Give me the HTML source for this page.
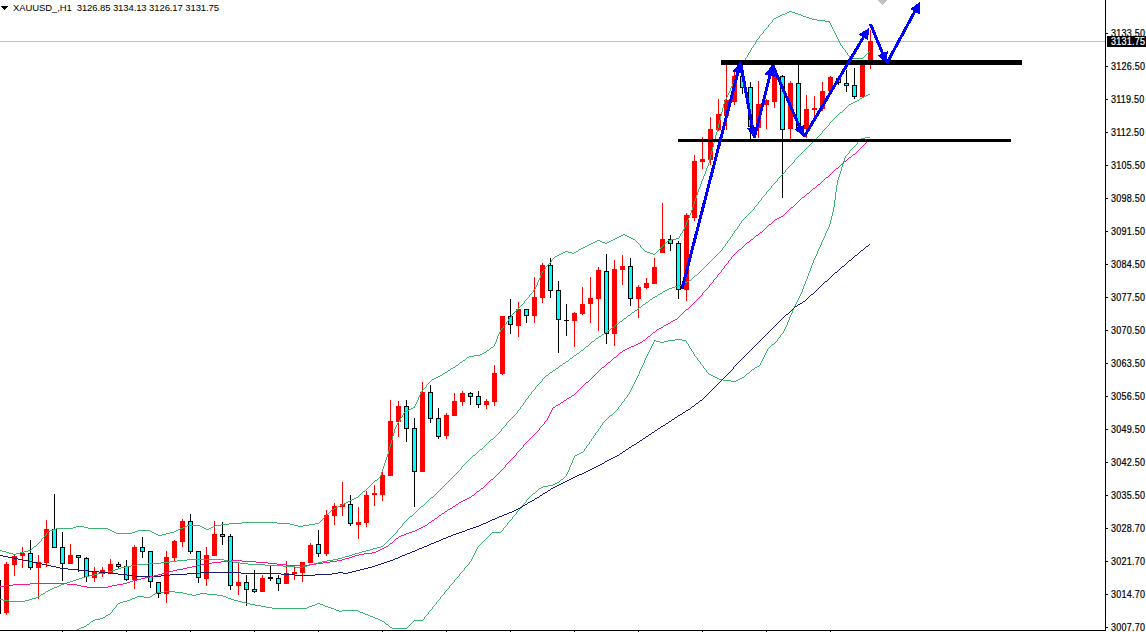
<!DOCTYPE html>
<html><head><meta charset="utf-8"><style>
html,body{margin:0;padding:0;background:#fff;}
#c{position:relative;width:1146px;height:632px;overflow:hidden;background:#fff;font-family:"Liberation Sans",sans-serif;}
svg{position:absolute;left:0;top:0;}
.pl{position:absolute;left:1111px;font-size:10px;line-height:12px;color:#000;letter-spacing:0.25px;transform:scaleX(0.9);transform-origin:0 0;white-space:nowrap;-webkit-text-stroke:0.2px #000;}
#hdr{position:absolute;left:13px;top:1.5px;font-size:9.5px;line-height:12px;color:#000;white-space:nowrap;letter-spacing:-0.1px;}
#cur{position:absolute;left:1107px;top:36px;width:39px;height:11px;background:#000;}
#curt{position:absolute;left:1111px;top:36px;font-size:10px;line-height:12px;color:#fff;letter-spacing:0.25px;transform:scaleX(0.9);transform-origin:0 0;white-space:nowrap;-webkit-text-stroke:0.2px #fff;}
</style></head><body><div id="c">
<svg width="1146" height="632" viewBox="0 0 1146 632" shape-rendering="crispEdges">
<rect x="0" y="41" width="1105" height="1" fill="#c0c0c0"/>
<rect x="6" y="562" width="1" height="53" fill="#ff0000"/>
<rect x="4" y="564" width="5" height="49" fill="#ff0000"/>
<rect x="14" y="555" width="1" height="21" fill="#ff0000"/>
<rect x="12" y="556" width="5" height="9" fill="#ff0000"/>
<rect x="22" y="547" width="1" height="21" fill="#ff0000"/>
<rect x="20" y="553" width="5" height="3" fill="#ff0000"/>
<rect x="30" y="540" width="1" height="30" fill="#000000"/>
<rect x="28" y="553" width="5" height="15" fill="#000000"/>
<rect x="29" y="554" width="3" height="13" fill="#00ffff"/>
<rect x="38" y="555" width="1" height="44" fill="#ff0000"/>
<rect x="36" y="562" width="5" height="6" fill="#ff0000"/>
<rect x="46" y="520" width="1" height="47" fill="#ff0000"/>
<rect x="44" y="529" width="5" height="34" fill="#ff0000"/>
<rect x="54" y="494" width="1" height="54" fill="#000000"/>
<rect x="52" y="529" width="5" height="19" fill="#000000"/>
<rect x="53" y="530" width="3" height="17" fill="#00ffff"/>
<rect x="62" y="532" width="1" height="49" fill="#000000"/>
<rect x="60" y="547" width="5" height="17" fill="#000000"/>
<rect x="61" y="548" width="3" height="15" fill="#00ffff"/>
<rect x="70" y="544" width="1" height="20" fill="#ff0000"/>
<rect x="68" y="555" width="5" height="9" fill="#ff0000"/>
<rect x="78" y="555" width="1" height="17" fill="#000000"/>
<rect x="76" y="555" width="5" height="3" fill="#000000"/>
<rect x="77" y="556" width="3" height="1" fill="#00ffff"/>
<rect x="86" y="557" width="1" height="25" fill="#000000"/>
<rect x="84" y="558" width="5" height="19" fill="#000000"/>
<rect x="85" y="559" width="3" height="17" fill="#00ffff"/>
<rect x="94" y="567" width="1" height="15" fill="#ff0000"/>
<rect x="92" y="571" width="5" height="7" fill="#ff0000"/>
<rect x="102" y="567" width="1" height="10" fill="#ff0000"/>
<rect x="100" y="570" width="5" height="4" fill="#ff0000"/>
<rect x="110" y="559" width="1" height="14" fill="#ff0000"/>
<rect x="108" y="564" width="5" height="9" fill="#ff0000"/>
<rect x="118" y="562" width="1" height="6" fill="#000000"/>
<rect x="116" y="564" width="5" height="3" fill="#000000"/>
<rect x="117" y="565" width="3" height="1" fill="#00ffff"/>
<rect x="126" y="560" width="1" height="21" fill="#000000"/>
<rect x="124" y="566" width="5" height="14" fill="#000000"/>
<rect x="125" y="567" width="3" height="12" fill="#00ffff"/>
<rect x="134" y="545" width="1" height="44" fill="#ff0000"/>
<rect x="132" y="547" width="5" height="33" fill="#ff0000"/>
<rect x="142" y="537" width="1" height="21" fill="#000000"/>
<rect x="140" y="547" width="5" height="5" fill="#000000"/>
<rect x="141" y="548" width="3" height="3" fill="#00ffff"/>
<rect x="150" y="551" width="1" height="37" fill="#000000"/>
<rect x="148" y="551" width="5" height="31" fill="#000000"/>
<rect x="149" y="552" width="3" height="29" fill="#00ffff"/>
<rect x="158" y="582" width="1" height="16" fill="#000000"/>
<rect x="156" y="582" width="5" height="12" fill="#000000"/>
<rect x="157" y="583" width="3" height="10" fill="#00ffff"/>
<rect x="166" y="551" width="1" height="52" fill="#ff0000"/>
<rect x="164" y="557" width="5" height="37" fill="#ff0000"/>
<rect x="174" y="540" width="1" height="21" fill="#ff0000"/>
<rect x="172" y="541" width="5" height="17" fill="#ff0000"/>
<rect x="182" y="519" width="1" height="28" fill="#ff0000"/>
<rect x="180" y="521" width="5" height="21" fill="#ff0000"/>
<rect x="190" y="514" width="1" height="40" fill="#000000"/>
<rect x="188" y="521" width="5" height="31" fill="#000000"/>
<rect x="189" y="522" width="3" height="29" fill="#00ffff"/>
<rect x="198" y="551" width="1" height="32" fill="#000000"/>
<rect x="196" y="551" width="5" height="27" fill="#000000"/>
<rect x="197" y="552" width="3" height="25" fill="#00ffff"/>
<rect x="206" y="547" width="1" height="39" fill="#ff0000"/>
<rect x="204" y="555" width="5" height="24" fill="#ff0000"/>
<rect x="214" y="521" width="1" height="35" fill="#ff0000"/>
<rect x="212" y="534" width="5" height="22" fill="#ff0000"/>
<rect x="222" y="522" width="1" height="23" fill="#000000"/>
<rect x="220" y="534" width="5" height="3" fill="#000000"/>
<rect x="221" y="535" width="3" height="1" fill="#00ffff"/>
<rect x="230" y="534" width="1" height="56" fill="#000000"/>
<rect x="228" y="536" width="5" height="50" fill="#000000"/>
<rect x="229" y="537" width="3" height="48" fill="#00ffff"/>
<rect x="238" y="562" width="1" height="33" fill="#ff0000"/>
<rect x="236" y="582" width="5" height="4" fill="#ff0000"/>
<rect x="246" y="575" width="1" height="31" fill="#000000"/>
<rect x="244" y="582" width="5" height="8" fill="#000000"/>
<rect x="245" y="583" width="3" height="6" fill="#00ffff"/>
<rect x="254" y="570" width="1" height="23" fill="#000000"/>
<rect x="252" y="589" width="5" height="3" fill="#000000"/>
<rect x="253" y="590" width="3" height="1" fill="#00ffff"/>
<rect x="262" y="575" width="1" height="17" fill="#ff0000"/>
<rect x="260" y="578" width="5" height="14" fill="#ff0000"/>
<rect x="270" y="566" width="1" height="15" fill="#000000"/>
<rect x="268" y="577" width="5" height="2" fill="#000000"/>
<rect x="278" y="575" width="1" height="16" fill="#000000"/>
<rect x="276" y="578" width="5" height="6" fill="#000000"/>
<rect x="277" y="579" width="3" height="4" fill="#00ffff"/>
<rect x="286" y="561" width="1" height="23" fill="#ff0000"/>
<rect x="284" y="573" width="5" height="11" fill="#ff0000"/>
<rect x="294" y="565" width="1" height="15" fill="#ff0000"/>
<rect x="292" y="572" width="5" height="2" fill="#ff0000"/>
<rect x="302" y="562" width="1" height="20" fill="#ff0000"/>
<rect x="300" y="562" width="5" height="11" fill="#ff0000"/>
<rect x="310" y="543" width="1" height="20" fill="#ff0000"/>
<rect x="308" y="545" width="5" height="18" fill="#ff0000"/>
<rect x="318" y="530" width="1" height="27" fill="#000000"/>
<rect x="316" y="544" width="5" height="10" fill="#000000"/>
<rect x="317" y="545" width="3" height="8" fill="#00ffff"/>
<rect x="326" y="510" width="1" height="46" fill="#ff0000"/>
<rect x="324" y="515" width="5" height="39" fill="#ff0000"/>
<rect x="334" y="503" width="1" height="22" fill="#ff0000"/>
<rect x="332" y="506" width="5" height="10" fill="#ff0000"/>
<rect x="342" y="482" width="1" height="34" fill="#ff0000"/>
<rect x="340" y="504" width="5" height="3" fill="#ff0000"/>
<rect x="350" y="495" width="1" height="31" fill="#000000"/>
<rect x="348" y="504" width="5" height="20" fill="#000000"/>
<rect x="349" y="505" width="3" height="18" fill="#00ffff"/>
<rect x="358" y="507" width="1" height="32" fill="#ff0000"/>
<rect x="356" y="522" width="5" height="3" fill="#ff0000"/>
<rect x="366" y="491" width="1" height="36" fill="#ff0000"/>
<rect x="364" y="495" width="5" height="28" fill="#ff0000"/>
<rect x="374" y="485" width="1" height="21" fill="#ff0000"/>
<rect x="372" y="493" width="5" height="2" fill="#ff0000"/>
<rect x="382" y="470" width="1" height="31" fill="#ff0000"/>
<rect x="380" y="475" width="5" height="20" fill="#ff0000"/>
<rect x="390" y="400" width="1" height="76" fill="#ff0000"/>
<rect x="388" y="421" width="5" height="55" fill="#ff0000"/>
<rect x="398" y="401" width="1" height="36" fill="#ff0000"/>
<rect x="396" y="406" width="5" height="16" fill="#ff0000"/>
<rect x="406" y="400" width="1" height="42" fill="#000000"/>
<rect x="404" y="406" width="5" height="23" fill="#000000"/>
<rect x="405" y="407" width="3" height="21" fill="#00ffff"/>
<rect x="414" y="418" width="1" height="89" fill="#000000"/>
<rect x="412" y="428" width="5" height="44" fill="#000000"/>
<rect x="413" y="429" width="3" height="42" fill="#00ffff"/>
<rect x="422" y="382" width="1" height="90" fill="#ff0000"/>
<rect x="420" y="392" width="5" height="80" fill="#ff0000"/>
<rect x="430" y="385" width="1" height="38" fill="#000000"/>
<rect x="428" y="392" width="5" height="27" fill="#000000"/>
<rect x="429" y="393" width="3" height="25" fill="#00ffff"/>
<rect x="438" y="408" width="1" height="31" fill="#000000"/>
<rect x="436" y="418" width="5" height="19" fill="#000000"/>
<rect x="437" y="419" width="3" height="17" fill="#00ffff"/>
<rect x="446" y="413" width="1" height="26" fill="#ff0000"/>
<rect x="444" y="415" width="5" height="21" fill="#ff0000"/>
<rect x="454" y="393" width="1" height="23" fill="#ff0000"/>
<rect x="452" y="401" width="5" height="15" fill="#ff0000"/>
<rect x="462" y="391" width="1" height="15" fill="#ff0000"/>
<rect x="460" y="393" width="5" height="9" fill="#ff0000"/>
<rect x="470" y="392" width="1" height="13" fill="#000000"/>
<rect x="468" y="393" width="5" height="4" fill="#000000"/>
<rect x="469" y="394" width="3" height="2" fill="#00ffff"/>
<rect x="478" y="391" width="1" height="17" fill="#000000"/>
<rect x="476" y="396" width="5" height="9" fill="#000000"/>
<rect x="477" y="397" width="3" height="7" fill="#00ffff"/>
<rect x="486" y="399" width="1" height="10" fill="#ff0000"/>
<rect x="484" y="401" width="5" height="4" fill="#ff0000"/>
<rect x="494" y="365" width="1" height="41" fill="#ff0000"/>
<rect x="492" y="373" width="5" height="29" fill="#ff0000"/>
<rect x="502" y="316" width="1" height="59" fill="#ff0000"/>
<rect x="500" y="316" width="5" height="58" fill="#ff0000"/>
<rect x="510" y="299" width="1" height="35" fill="#000000"/>
<rect x="508" y="316" width="5" height="9" fill="#000000"/>
<rect x="509" y="317" width="3" height="7" fill="#00ffff"/>
<rect x="518" y="302" width="1" height="35" fill="#ff0000"/>
<rect x="516" y="309" width="5" height="17" fill="#ff0000"/>
<rect x="526" y="309" width="1" height="14" fill="#000000"/>
<rect x="524" y="309" width="5" height="7" fill="#000000"/>
<rect x="525" y="310" width="3" height="5" fill="#00ffff"/>
<rect x="534" y="277" width="1" height="46" fill="#ff0000"/>
<rect x="532" y="297" width="5" height="19" fill="#ff0000"/>
<rect x="542" y="263" width="1" height="40" fill="#ff0000"/>
<rect x="540" y="265" width="5" height="33" fill="#ff0000"/>
<rect x="550" y="258" width="1" height="40" fill="#000000"/>
<rect x="548" y="265" width="5" height="26" fill="#000000"/>
<rect x="549" y="266" width="3" height="24" fill="#00ffff"/>
<rect x="558" y="281" width="1" height="72" fill="#000000"/>
<rect x="556" y="290" width="5" height="30" fill="#000000"/>
<rect x="557" y="291" width="3" height="28" fill="#00ffff"/>
<rect x="566" y="304" width="1" height="32" fill="#000000"/>
<rect x="564" y="320" width="5" height="1" fill="#000000"/>
<rect x="574" y="312" width="1" height="35" fill="#ff0000"/>
<rect x="572" y="313" width="5" height="8" fill="#ff0000"/>
<rect x="582" y="287" width="1" height="28" fill="#ff0000"/>
<rect x="580" y="304" width="5" height="10" fill="#ff0000"/>
<rect x="590" y="277" width="1" height="46" fill="#ff0000"/>
<rect x="588" y="298" width="5" height="6" fill="#ff0000"/>
<rect x="598" y="267" width="1" height="64" fill="#ff0000"/>
<rect x="596" y="270" width="5" height="29" fill="#ff0000"/>
<rect x="606" y="254" width="1" height="90" fill="#000000"/>
<rect x="604" y="271" width="5" height="63" fill="#000000"/>
<rect x="605" y="272" width="3" height="61" fill="#00ffff"/>
<rect x="614" y="260" width="1" height="86" fill="#ff0000"/>
<rect x="612" y="269" width="5" height="65" fill="#ff0000"/>
<rect x="622" y="255" width="1" height="30" fill="#ff0000"/>
<rect x="620" y="266" width="5" height="4" fill="#ff0000"/>
<rect x="630" y="258" width="1" height="48" fill="#000000"/>
<rect x="628" y="266" width="5" height="33" fill="#000000"/>
<rect x="629" y="267" width="3" height="31" fill="#00ffff"/>
<rect x="638" y="285" width="1" height="33" fill="#ff0000"/>
<rect x="636" y="287" width="5" height="12" fill="#ff0000"/>
<rect x="646" y="278" width="1" height="11" fill="#ff0000"/>
<rect x="644" y="283" width="5" height="5" fill="#ff0000"/>
<rect x="654" y="258" width="1" height="26" fill="#ff0000"/>
<rect x="652" y="267" width="5" height="17" fill="#ff0000"/>
<rect x="662" y="203" width="1" height="50" fill="#ff0000"/>
<rect x="660" y="239" width="5" height="14" fill="#ff0000"/>
<rect x="670" y="235" width="1" height="16" fill="#000000"/>
<rect x="668" y="239" width="5" height="5" fill="#000000"/>
<rect x="669" y="240" width="3" height="3" fill="#00ffff"/>
<rect x="678" y="241" width="1" height="58" fill="#000000"/>
<rect x="676" y="243" width="5" height="47" fill="#000000"/>
<rect x="677" y="244" width="3" height="45" fill="#00ffff"/>
<rect x="686" y="213" width="1" height="88" fill="#ff0000"/>
<rect x="684" y="215" width="5" height="75" fill="#ff0000"/>
<rect x="694" y="155" width="1" height="66" fill="#ff0000"/>
<rect x="692" y="161" width="5" height="57" fill="#ff0000"/>
<rect x="702" y="137" width="1" height="32" fill="#ff0000"/>
<rect x="700" y="159" width="5" height="3" fill="#ff0000"/>
<rect x="710" y="117" width="1" height="48" fill="#ff0000"/>
<rect x="708" y="129" width="5" height="31" fill="#ff0000"/>
<rect x="718" y="99" width="1" height="32" fill="#ff0000"/>
<rect x="716" y="114" width="5" height="16" fill="#ff0000"/>
<rect x="726" y="65" width="1" height="65" fill="#ff0000"/>
<rect x="724" y="100" width="5" height="16" fill="#ff0000"/>
<rect x="734" y="72" width="1" height="33" fill="#ff0000"/>
<rect x="732" y="76" width="5" height="26" fill="#ff0000"/>
<rect x="742" y="62" width="1" height="32" fill="#000000"/>
<rect x="740" y="76" width="5" height="12" fill="#000000"/>
<rect x="741" y="77" width="3" height="10" fill="#00ffff"/>
<rect x="750" y="82" width="1" height="57" fill="#000000"/>
<rect x="748" y="87" width="5" height="40" fill="#000000"/>
<rect x="749" y="88" width="3" height="38" fill="#00ffff"/>
<rect x="758" y="81" width="1" height="57" fill="#ff0000"/>
<rect x="756" y="104" width="5" height="24" fill="#ff0000"/>
<rect x="766" y="99" width="1" height="30" fill="#ff0000"/>
<rect x="764" y="100" width="5" height="5" fill="#ff0000"/>
<rect x="774" y="65" width="1" height="43" fill="#ff0000"/>
<rect x="772" y="76" width="5" height="26" fill="#ff0000"/>
<rect x="782" y="75" width="1" height="123" fill="#000000"/>
<rect x="780" y="76" width="5" height="54" fill="#000000"/>
<rect x="781" y="77" width="3" height="52" fill="#00ffff"/>
<rect x="790" y="81" width="1" height="59" fill="#ff0000"/>
<rect x="788" y="83" width="5" height="46" fill="#ff0000"/>
<rect x="798" y="64" width="1" height="65" fill="#000000"/>
<rect x="796" y="83" width="5" height="45" fill="#000000"/>
<rect x="797" y="84" width="3" height="43" fill="#00ffff"/>
<rect x="806" y="95" width="1" height="43" fill="#ff0000"/>
<rect x="804" y="109" width="5" height="20" fill="#ff0000"/>
<rect x="814" y="96" width="1" height="21" fill="#ff0000"/>
<rect x="812" y="108" width="5" height="2" fill="#ff0000"/>
<rect x="822" y="82" width="1" height="29" fill="#ff0000"/>
<rect x="820" y="91" width="5" height="18" fill="#ff0000"/>
<rect x="830" y="76" width="1" height="15" fill="#ff0000"/>
<rect x="828" y="77" width="5" height="14" fill="#ff0000"/>
<rect x="838" y="77" width="1" height="8" fill="#000000"/>
<rect x="836" y="78" width="5" height="5" fill="#000000"/>
<rect x="837" y="79" width="3" height="3" fill="#00ffff"/>
<rect x="846" y="70" width="1" height="22" fill="#000000"/>
<rect x="844" y="83" width="5" height="3" fill="#000000"/>
<rect x="845" y="84" width="3" height="1" fill="#00ffff"/>
<rect x="854" y="68" width="1" height="31" fill="#000000"/>
<rect x="852" y="85" width="5" height="12" fill="#000000"/>
<rect x="853" y="86" width="3" height="10" fill="#00ffff"/>
<rect x="862" y="62" width="1" height="35" fill="#ff0000"/>
<rect x="860" y="64" width="5" height="33" fill="#ff0000"/>
<rect x="870" y="30" width="1" height="39" fill="#ff0000"/>
<rect x="868" y="41" width="5" height="23" fill="#ff0000"/>
<rect x="0" y="580" width="1" height="34" fill="#000000"/>
<path d="M865 137h5v1h-5zM861 138h4v1h-4zM860 139h1v1h-1zM859 140h1v1h-1zM858 141h1v1h-1zM857 142h1v1h-1zM857 143h1v1h-1zM856 144h1v1h-1zM855 145h1v1h-1zM854 146h1v1h-1zM853 147h1v1h-1zM852 148h1v1h-1zM851 149h1v1h-1zM850 150h1v1h-1zM849 151h1v1h-1zM849 152h1v1h-1zM848 153h1v1h-1zM847 154h1v1h-1zM846 155h1v1h-1zM845 156h1v1h-1zM845 157h1v1h-1zM844 158h1v1h-1zM844 159h1v1h-1zM844 160h1v1h-1zM843 161h1v1h-1zM843 162h1v1h-1zM843 163h1v1h-1zM842 164h1v1h-1zM842 165h1v1h-1zM842 166h1v1h-1zM841 167h1v1h-1zM841 168h1v1h-1zM841 169h1v1h-1zM841 170h1v1h-1zM840 171h1v1h-1zM840 172h1v1h-1zM840 173h1v1h-1zM839 174h1v1h-1zM839 175h1v1h-1zM839 176h1v1h-1zM838 177h1v1h-1zM838 178h1v1h-1zM838 179h1v1h-1zM837 180h1v1h-1zM837 181h1v1h-1zM837 182h1v1h-1zM837 183h1v1h-1zM837 184h1v1h-1zM836 185h1v1h-1zM836 186h1v1h-1zM836 187h1v1h-1zM836 188h1v1h-1zM836 189h1v1h-1zM836 190h1v1h-1zM836 191h1v1h-1zM835 192h1v1h-1zM835 193h1v1h-1zM835 194h1v1h-1zM835 195h1v1h-1zM835 196h1v1h-1zM835 197h1v1h-1zM835 198h1v1h-1zM835 199h1v1h-1zM834 200h1v1h-1zM834 201h1v1h-1zM834 202h1v1h-1zM834 203h1v1h-1zM834 204h1v1h-1zM834 205h1v1h-1zM834 206h1v1h-1zM833 207h1v1h-1zM833 208h1v1h-1zM833 209h1v1h-1zM833 210h1v1h-1zM833 211h1v1h-1zM832 212h1v1h-1zM832 213h1v1h-1zM832 214h1v1h-1zM832 215h1v1h-1zM831 216h1v1h-1zM831 217h1v1h-1zM831 218h1v1h-1zM831 219h1v1h-1zM830 220h1v1h-1zM830 221h1v1h-1zM830 222h1v1h-1zM830 223h1v1h-1zM829 224h1v1h-1zM829 225h1v1h-1zM829 226h1v1h-1zM828 227h1v1h-1zM828 228h1v1h-1zM827 229h1v1h-1zM827 230h1v1h-1zM826 231h1v1h-1zM826 232h1v1h-1zM825 233h1v1h-1zM825 234h1v1h-1zM825 235h1v1h-1zM824 236h1v1h-1zM824 237h1v1h-1zM823 238h1v1h-1zM823 239h1v1h-1zM822 240h1v1h-1zM822 241h1v1h-1zM821 242h1v1h-1zM821 243h1v1h-1zM821 244h1v1h-1zM820 245h1v1h-1zM820 246h1v1h-1zM819 247h1v1h-1zM819 248h1v1h-1zM818 249h1v1h-1zM818 250h1v1h-1zM817 251h1v1h-1zM817 252h1v1h-1zM817 253h1v1h-1zM816 254h1v1h-1zM816 255h1v1h-1zM815 256h1v1h-1zM815 257h1v1h-1zM814 258h1v1h-1zM814 259h1v1h-1zM813 260h1v1h-1zM813 261h1v1h-1zM813 262h1v1h-1zM812 263h1v1h-1zM812 264h1v1h-1zM811 265h1v1h-1zM811 266h1v1h-1zM811 267h1v1h-1zM810 268h1v1h-1zM810 269h1v1h-1zM810 270h1v1h-1zM809 271h1v1h-1zM809 272h1v1h-1zM808 273h1v1h-1zM808 274h1v1h-1zM808 275h1v1h-1zM807 276h1v1h-1zM807 277h1v1h-1zM807 278h1v1h-1zM806 279h1v1h-1zM806 280h1v1h-1zM805 281h1v1h-1zM805 282h1v1h-1zM805 283h1v1h-1zM804 284h1v1h-1zM804 285h1v1h-1zM803 286h1v1h-1zM803 287h1v1h-1zM803 288h1v1h-1zM802 289h1v1h-1zM802 290h1v1h-1zM802 291h1v1h-1zM801 292h1v1h-1zM801 293h1v1h-1zM800 294h1v1h-1zM800 295h1v1h-1zM799 296h1v1h-1zM799 297h1v1h-1zM798 298h1v1h-1zM798 299h1v1h-1zM797 300h1v1h-1zM797 301h1v1h-1zM796 302h1v1h-1zM796 303h1v1h-1zM795 304h1v1h-1zM795 305h1v1h-1zM794 306h1v1h-1zM794 307h1v1h-1zM793 308h1v1h-1zM793 309h1v1h-1zM792 310h1v1h-1zM792 311h1v1h-1zM792 312h1v1h-1zM791 313h1v1h-1zM791 314h1v1h-1zM790 315h1v1h-1zM790 316h1v1h-1zM789 317h1v1h-1zM789 318h1v1h-1zM789 319h1v1h-1zM788 320h1v1h-1zM788 321h1v1h-1zM787 322h1v1h-1zM787 323h1v1h-1zM787 324h1v1h-1zM786 325h1v1h-1zM786 326h1v1h-1zM785 327h1v1h-1zM785 328h1v1h-1zM784 329h1v1h-1zM784 330h1v1h-1zM783 331h1v1h-1zM783 332h1v1h-1zM782 333h1v1h-1zM781 334h1v1h-1zM780 335h1v1h-1zM780 336h1v1h-1zM779 337h1v1h-1zM778 338h1v1h-1zM675 339h7v1h-7zM777 339h1v1h-1zM654 340h2v1h-2zM668 340h7v1h-7zM682 340h4v1h-4zM777 340h1v1h-1zM654 341h1v1h-1zM656 341h4v1h-4zM664 341h4v1h-4zM686 341h1v1h-1zM776 341h1v1h-1zM653 342h1v1h-1zM660 342h4v1h-4zM686 342h1v1h-1zM775 342h1v1h-1zM653 343h1v1h-1zM687 343h1v1h-1zM774 343h1v1h-1zM652 344h1v1h-1zM688 344h1v1h-1zM772 344h2v1h-2zM652 345h1v1h-1zM688 345h1v1h-1zM771 345h1v1h-1zM651 346h1v1h-1zM689 346h1v1h-1zM770 346h1v1h-1zM651 347h1v1h-1zM689 347h1v1h-1zM769 347h1v1h-1zM650 348h1v1h-1zM690 348h1v1h-1zM768 348h1v1h-1zM650 349h1v1h-1zM691 349h1v1h-1zM767 349h1v1h-1zM649 350h1v1h-1zM691 350h1v1h-1zM767 350h1v1h-1zM649 351h1v1h-1zM692 351h1v1h-1zM766 351h1v1h-1zM648 352h1v1h-1zM693 352h1v1h-1zM766 352h1v1h-1zM648 353h1v1h-1zM693 353h1v1h-1zM765 353h1v1h-1zM647 354h1v1h-1zM694 354h1v1h-1zM765 354h1v1h-1zM647 355h1v1h-1zM694 355h1v1h-1zM764 355h1v1h-1zM646 356h1v1h-1zM695 356h1v1h-1zM764 356h1v1h-1zM646 357h1v1h-1zM696 357h1v1h-1zM763 357h1v1h-1zM645 358h1v1h-1zM697 358h1v1h-1zM763 358h1v1h-1zM645 359h1v1h-1zM697 359h1v1h-1zM762 359h1v1h-1zM644 360h1v1h-1zM698 360h1v1h-1zM762 360h1v1h-1zM644 361h1v1h-1zM699 361h1v1h-1zM761 361h1v1h-1zM644 362h1v1h-1zM700 362h1v1h-1zM761 362h1v1h-1zM643 363h1v1h-1zM700 363h1v1h-1zM760 363h1v1h-1zM643 364h1v1h-1zM701 364h1v1h-1zM760 364h1v1h-1zM642 365h1v1h-1zM702 365h1v1h-1zM759 365h1v1h-1zM642 366h1v1h-1zM703 366h1v1h-1zM757 366h2v1h-2zM641 367h1v1h-1zM703 367h1v1h-1zM755 367h2v1h-2zM641 368h1v1h-1zM704 368h1v1h-1zM754 368h1v1h-1zM640 369h1v1h-1zM705 369h1v1h-1zM752 369h2v1h-2zM640 370h1v1h-1zM706 370h1v1h-1zM751 370h1v1h-1zM639 371h1v1h-1zM706 371h1v1h-1zM750 371h1v1h-1zM639 372h1v1h-1zM707 372h1v1h-1zM749 372h1v1h-1zM639 373h1v1h-1zM708 373h1v1h-1zM747 373h2v1h-2zM638 374h1v1h-1zM709 374h2v1h-2zM746 374h1v1h-1zM638 375h1v1h-1zM711 375h2v1h-2zM745 375h1v1h-1zM637 376h1v1h-1zM713 376h2v1h-2zM744 376h1v1h-1zM637 377h1v1h-1zM715 377h2v1h-2zM742 377h2v1h-2zM636 378h1v1h-1zM717 378h2v1h-2zM740 378h2v1h-2zM636 379h1v1h-1zM719 379h4v1h-4zM738 379h2v1h-2zM635 380h1v1h-1zM723 380h8v1h-8zM736 380h2v1h-2zM635 381h1v1h-1zM731 381h5v1h-5zM634 382h1v1h-1zM634 383h1v1h-1zM633 384h1v1h-1zM633 385h1v1h-1zM632 386h1v1h-1zM632 387h1v1h-1zM631 388h1v1h-1zM631 389h1v1h-1zM630 390h1v1h-1zM630 391h1v1h-1zM629 392h1v1h-1zM629 393h1v1h-1zM628 394h1v1h-1zM627 395h1v1h-1zM627 396h1v1h-1zM626 397h1v1h-1zM625 398h1v1h-1zM624 399h1v1h-1zM624 400h1v1h-1zM623 401h1v1h-1zM622 402h1v1h-1zM621 403h1v1h-1zM621 404h1v1h-1zM620 405h1v1h-1zM619 406h1v1h-1zM618 407h1v1h-1zM618 408h1v1h-1zM617 409h1v1h-1zM616 410h1v1h-1zM615 411h1v1h-1zM614 412h1v1h-1zM613 413h1v1h-1zM612 414h1v1h-1zM610 415h2v1h-2zM609 416h1v1h-1zM608 417h1v1h-1zM607 418h1v1h-1zM606 419h1v1h-1zM605 420h1v1h-1zM604 421h1v1h-1zM603 422h1v1h-1zM602 423h1v1h-1zM602 424h1v1h-1zM601 425h1v1h-1zM600 426h1v1h-1zM600 427h1v1h-1zM599 428h1v1h-1zM598 429h1v1h-1zM598 430h1v1h-1zM597 431h1v1h-1zM596 432h1v1h-1zM595 433h1v1h-1zM595 434h1v1h-1zM594 435h1v1h-1zM593 436h1v1h-1zM593 437h1v1h-1zM592 438h1v1h-1zM591 439h1v1h-1zM591 440h1v1h-1zM590 441h1v1h-1zM589 442h1v1h-1zM589 443h1v1h-1zM588 444h1v1h-1zM587 445h1v1h-1zM586 446h1v1h-1zM586 447h1v1h-1zM585 448h1v1h-1zM584 449h1v1h-1zM584 450h1v1h-1zM583 451h1v1h-1zM581 452h2v1h-2zM579 453h2v1h-2zM577 454h2v1h-2zM575 455h2v1h-2zM574 456h1v1h-1zM574 457h1v1h-1zM573 458h1v1h-1zM573 459h1v1h-1zM572 460h1v1h-1zM572 461h1v1h-1zM572 462h1v1h-1zM571 463h1v1h-1zM571 464h1v1h-1zM570 465h1v1h-1zM570 466h1v1h-1zM569 467h1v1h-1zM569 468h1v1h-1zM569 469h1v1h-1zM568 470h1v1h-1zM568 471h1v1h-1zM567 472h1v1h-1zM567 473h1v1h-1zM566 474h1v1h-1zM566 475h1v1h-1zM565 476h1v1h-1zM564 477h1v1h-1zM563 478h1v1h-1zM561 479h2v1h-2zM560 480h1v1h-1zM559 481h1v1h-1zM557 482h2v1h-2zM555 483h2v1h-2zM553 484h2v1h-2zM548 485h5v1h-5zM543 486h5v1h-5zM541 487h2v1h-2zM539 488h2v1h-2zM538 489h1v1h-1zM537 490h1v1h-1zM536 491h1v1h-1zM535 492h1v1h-1zM533 493h2v1h-2zM532 494h1v1h-1zM531 495h1v1h-1zM530 496h1v1h-1zM529 497h1v1h-1zM528 498h1v1h-1zM527 499h1v1h-1zM526 500h1v1h-1zM526 501h1v1h-1zM525 502h1v1h-1zM524 503h1v1h-1zM523 504h1v1h-1zM522 505h1v1h-1zM521 506h1v1h-1zM521 507h1v1h-1zM520 508h1v1h-1zM519 509h1v1h-1zM518 510h1v1h-1zM517 511h1v1h-1zM516 512h1v1h-1zM516 513h1v1h-1zM515 514h1v1h-1zM514 515h1v1h-1zM513 516h1v1h-1zM512 517h1v1h-1zM512 518h1v1h-1zM511 519h1v1h-1zM510 520h1v1h-1zM509 521h1v1h-1zM508 522h1v1h-1zM507 523h1v1h-1zM507 524h1v1h-1zM506 525h1v1h-1zM505 526h1v1h-1zM504 527h1v1h-1zM503 528h1v1h-1zM503 529h1v1h-1zM502 530h1v1h-1zM501 531h1v1h-1zM492 532h9v1h-9zM491 533h1v1h-1zM490 534h1v1h-1zM489 535h1v1h-1zM488 536h1v1h-1zM487 537h1v1h-1zM486 538h1v1h-1zM485 539h1v1h-1zM484 540h1v1h-1zM483 541h1v1h-1zM482 542h1v1h-1zM481 543h1v1h-1zM480 544h1v1h-1zM479 545h1v1h-1zM478 546h1v1h-1zM477 547h1v1h-1zM477 548h1v1h-1zM476 549h1v1h-1zM476 550h1v1h-1zM475 551h1v1h-1zM475 552h1v1h-1zM474 553h1v1h-1zM474 554h1v1h-1zM473 555h1v1h-1zM473 556h1v1h-1zM472 557h1v1h-1zM472 558h1v1h-1zM471 559h1v1h-1zM471 560h1v1h-1zM470 561h1v1h-1zM469 562h1v1h-1zM469 563h1v1h-1zM468 564h1v1h-1zM467 565h1v1h-1zM466 566h1v1h-1zM465 567h1v1h-1zM464 568h1v1h-1zM464 569h1v1h-1zM463 570h1v1h-1zM462 571h1v1h-1zM461 572h1v1h-1zM460 573h1v1h-1zM459 574h1v1h-1zM459 575h1v1h-1zM458 576h1v1h-1zM457 577h1v1h-1zM456 578h1v1h-1zM455 579h1v1h-1zM454 580h1v1h-1zM454 581h1v1h-1zM453 582h1v1h-1zM452 583h1v1h-1zM451 584h1v1h-1zM450 585h1v1h-1zM449 586h1v1h-1zM449 587h1v1h-1zM448 588h1v1h-1zM447 589h1v1h-1zM446 590h1v1h-1zM164 591h11v1h-11zM445 591h1v1h-1zM157 592h7v1h-7zM175 592h8v1h-8zM444 592h1v1h-1zM155 593h2v1h-2zM183 593h4v1h-4zM200 593h7v1h-7zM444 593h1v1h-1zM153 594h2v1h-2zM187 594h5v1h-5zM196 594h4v1h-4zM207 594h10v1h-10zM443 594h1v1h-1zM152 595h1v1h-1zM192 595h4v1h-4zM217 595h6v1h-6zM442 595h1v1h-1zM137 596h7v1h-7zM150 596h2v1h-2zM223 596h3v1h-3zM441 596h1v1h-1zM135 597h2v1h-2zM144 597h6v1h-6zM226 597h2v1h-2zM440 597h1v1h-1zM132 598h3v1h-3zM228 598h3v1h-3zM440 598h1v1h-1zM130 599h2v1h-2zM231 599h3v1h-3zM439 599h1v1h-1zM127 600h3v1h-3zM234 600h4v1h-4zM438 600h1v1h-1zM123 601h4v1h-4zM238 601h4v1h-4zM437 601h1v1h-1zM120 602h3v1h-3zM242 602h4v1h-4zM436 602h1v1h-1zM118 603h2v1h-2zM246 603h4v1h-4zM317 603h3v1h-3zM436 603h1v1h-1zM117 604h1v1h-1zM250 604h5v1h-5zM315 604h2v1h-2zM320 604h3v1h-3zM435 604h1v1h-1zM116 605h1v1h-1zM255 605h6v1h-6zM312 605h3v1h-3zM323 605h2v1h-2zM434 605h1v1h-1zM116 606h1v1h-1zM261 606h5v1h-5zM309 606h3v1h-3zM325 606h3v1h-3zM433 606h1v1h-1zM115 607h1v1h-1zM266 607h6v1h-6zM307 607h2v1h-2zM328 607h3v1h-3zM432 607h1v1h-1zM114 608h1v1h-1zM272 608h35v1h-35zM331 608h3v1h-3zM432 608h1v1h-1zM113 609h1v1h-1zM334 609h2v1h-2zM431 609h1v1h-1zM112 610h1v1h-1zM336 610h3v1h-3zM342 610h16v1h-16zM430 610h1v1h-1zM112 611h1v1h-1zM339 611h3v1h-3zM358 611h2v1h-2zM429 611h1v1h-1zM111 612h1v1h-1zM360 612h3v1h-3zM428 612h1v1h-1zM110 613h1v1h-1zM363 613h2v1h-2zM428 613h1v1h-1zM108 614h2v1h-2zM365 614h3v1h-3zM427 614h1v1h-1zM106 615h2v1h-2zM368 615h2v1h-2zM426 615h1v1h-1zM105 616h1v1h-1zM370 616h3v1h-3zM425 616h1v1h-1zM103 617h2v1h-2zM373 617h2v1h-2zM424 617h1v1h-1zM100 618h3v1h-3zM375 618h3v1h-3zM424 618h1v1h-1zM95 619h5v1h-5zM378 619h2v1h-2zM423 619h1v1h-1zM93 620h2v1h-2zM380 620h2v1h-2zM414 620h9v1h-9zM91 621h2v1h-2zM382 621h2v1h-2zM413 621h1v1h-1zM90 622h1v1h-1zM384 622h1v1h-1zM412 622h1v1h-1zM89 623h1v1h-1zM385 623h1v1h-1zM411 623h1v1h-1zM87 624h2v1h-2zM386 624h2v1h-2zM410 624h1v1h-1zM86 625h1v1h-1zM388 625h1v1h-1zM409 625h1v1h-1zM84 626h2v1h-2zM389 626h1v1h-1zM408 626h1v1h-1zM81 627h3v1h-3zM390 627h2v1h-2zM407 627h1v1h-1zM79 628h2v1h-2zM392 628h15v1h-15zM77 629h2v1h-2z" fill="#3cb371"/>
<path d="M868 94h2v1h-2zM866 95h2v1h-2zM864 96h2v1h-2zM862 97h2v1h-2zM860 98h2v1h-2zM859 99h1v1h-1zM857 100h2v1h-2zM855 101h2v1h-2zM853 102h2v1h-2zM851 103h2v1h-2zM849 104h2v1h-2zM848 105h1v1h-1zM847 106h1v1h-1zM846 107h1v1h-1zM845 108h1v1h-1zM844 109h1v1h-1zM843 110h1v1h-1zM842 111h1v1h-1zM840 112h2v1h-2zM839 113h1v1h-1zM838 114h1v1h-1zM837 115h1v1h-1zM836 116h1v1h-1zM835 117h1v1h-1zM834 118h1v1h-1zM833 119h1v1h-1zM832 120h1v1h-1zM831 121h1v1h-1zM830 122h1v1h-1zM829 123h1v1h-1zM829 124h1v1h-1zM828 125h1v1h-1zM827 126h1v1h-1zM826 127h1v1h-1zM825 128h1v1h-1zM824 129h1v1h-1zM823 130h1v1h-1zM822 131h1v1h-1zM822 132h1v1h-1zM821 133h1v1h-1zM820 134h1v1h-1zM819 135h1v1h-1zM818 136h1v1h-1zM817 137h1v1h-1zM816 138h1v1h-1zM815 139h1v1h-1zM814 140h1v1h-1zM813 141h1v1h-1zM812 142h1v1h-1zM811 143h1v1h-1zM810 144h1v1h-1zM809 145h1v1h-1zM808 146h1v1h-1zM807 147h1v1h-1zM806 148h1v1h-1zM805 149h1v1h-1zM804 150h1v1h-1zM803 151h1v1h-1zM802 152h1v1h-1zM801 153h1v1h-1zM800 154h1v1h-1zM799 155h1v1h-1zM798 156h1v1h-1zM797 157h1v1h-1zM796 158h1v1h-1zM795 159h1v1h-1zM794 160h1v1h-1zM794 161h1v1h-1zM793 162h1v1h-1zM792 163h1v1h-1zM791 164h1v1h-1zM790 165h1v1h-1zM789 166h1v1h-1zM788 167h1v1h-1zM787 168h1v1h-1zM786 169h1v1h-1zM785 170h1v1h-1zM785 171h1v1h-1zM784 172h1v1h-1zM783 173h1v1h-1zM782 174h1v1h-1zM781 175h1v1h-1zM780 176h1v1h-1zM779 177h1v1h-1zM778 178h1v1h-1zM777 179h1v1h-1zM777 180h1v1h-1zM776 181h1v1h-1zM775 182h1v1h-1zM774 183h1v1h-1zM773 184h1v1h-1zM772 185h1v1h-1zM771 186h1v1h-1zM771 187h1v1h-1zM770 188h1v1h-1zM769 189h1v1h-1zM768 190h1v1h-1zM767 191h1v1h-1zM766 192h1v1h-1zM766 193h1v1h-1zM765 194h1v1h-1zM764 195h1v1h-1zM763 196h1v1h-1zM762 197h1v1h-1zM761 198h1v1h-1zM761 199h1v1h-1zM760 200h1v1h-1zM759 201h1v1h-1zM758 202h1v1h-1zM758 203h1v1h-1zM757 204h1v1h-1zM756 205h1v1h-1zM755 206h1v1h-1zM754 207h1v1h-1zM754 208h1v1h-1zM753 209h1v1h-1zM752 210h1v1h-1zM751 211h1v1h-1zM750 212h1v1h-1zM749 213h1v1h-1zM748 214h1v1h-1zM747 215h1v1h-1zM746 216h1v1h-1zM745 217h1v1h-1zM744 218h1v1h-1zM743 219h1v1h-1zM742 220h1v1h-1zM741 221h1v1h-1zM741 222h1v1h-1zM740 223h1v1h-1zM739 224h1v1h-1zM739 225h1v1h-1zM738 226h1v1h-1zM737 227h1v1h-1zM737 228h1v1h-1zM736 229h1v1h-1zM735 230h1v1h-1zM734 231h1v1h-1zM734 232h1v1h-1zM733 233h1v1h-1zM732 234h1v1h-1zM732 235h1v1h-1zM731 236h1v1h-1zM730 237h1v1h-1zM730 238h1v1h-1zM729 239h1v1h-1zM728 240h1v1h-1zM727 241h1v1h-1zM727 242h1v1h-1zM726 243h1v1h-1zM725 244h1v1h-1zM725 245h1v1h-1zM724 246h1v1h-1zM723 247h1v1h-1zM722 248h1v1h-1zM722 249h1v1h-1zM721 250h1v1h-1zM720 251h1v1h-1zM719 252h1v1h-1zM718 253h1v1h-1zM717 254h1v1h-1zM716 255h1v1h-1zM715 256h1v1h-1zM714 257h1v1h-1zM713 258h1v1h-1zM712 259h1v1h-1zM711 260h1v1h-1zM710 261h1v1h-1zM709 262h1v1h-1zM708 263h1v1h-1zM707 264h1v1h-1zM706 265h1v1h-1zM705 266h1v1h-1zM704 267h1v1h-1zM703 268h1v1h-1zM702 269h1v1h-1zM701 270h1v1h-1zM700 271h1v1h-1zM699 272h1v1h-1zM698 273h1v1h-1zM697 274h1v1h-1zM695 275h2v1h-2zM694 276h1v1h-1zM693 277h1v1h-1zM692 278h1v1h-1zM691 279h1v1h-1zM689 280h2v1h-2zM687 281h2v1h-2zM685 282h2v1h-2zM683 283h2v1h-2zM681 284h2v1h-2zM678 285h3v1h-3zM675 286h3v1h-3zM672 287h3v1h-3zM669 288h3v1h-3zM667 289h2v1h-2zM665 290h2v1h-2zM663 291h2v1h-2zM662 292h1v1h-1zM660 293h2v1h-2zM658 294h2v1h-2zM657 295h1v1h-1zM655 296h2v1h-2zM653 297h2v1h-2zM652 298h1v1h-1zM650 299h2v1h-2zM649 300h1v1h-1zM648 301h1v1h-1zM646 302h2v1h-2zM645 303h1v1h-1zM643 304h2v1h-2zM642 305h1v1h-1zM641 306h1v1h-1zM639 307h2v1h-2zM638 308h1v1h-1zM637 309h1v1h-1zM635 310h2v1h-2zM634 311h1v1h-1zM632 312h2v1h-2zM631 313h1v1h-1zM630 314h1v1h-1zM628 315h2v1h-2zM627 316h1v1h-1zM626 317h1v1h-1zM624 318h2v1h-2zM623 319h1v1h-1zM622 320h1v1h-1zM620 321h2v1h-2zM619 322h1v1h-1zM618 323h1v1h-1zM616 324h2v1h-2zM615 325h1v1h-1zM614 326h1v1h-1zM612 327h2v1h-2zM611 328h1v1h-1zM610 329h1v1h-1zM608 330h2v1h-2zM607 331h1v1h-1zM605 332h2v1h-2zM604 333h1v1h-1zM602 334h2v1h-2zM601 335h1v1h-1zM599 336h2v1h-2zM598 337h1v1h-1zM596 338h2v1h-2zM595 339h1v1h-1zM594 340h1v1h-1zM592 341h2v1h-2zM591 342h1v1h-1zM590 343h1v1h-1zM589 344h1v1h-1zM588 345h1v1h-1zM586 346h2v1h-2zM585 347h1v1h-1zM584 348h1v1h-1zM583 349h1v1h-1zM581 350h2v1h-2zM580 351h1v1h-1zM579 352h1v1h-1zM577 353h2v1h-2zM576 354h1v1h-1zM574 355h2v1h-2zM573 356h1v1h-1zM572 357h1v1h-1zM570 358h2v1h-2zM569 359h1v1h-1zM568 360h1v1h-1zM566 361h2v1h-2zM565 362h1v1h-1zM563 363h2v1h-2zM562 364h1v1h-1zM560 365h2v1h-2zM559 366h1v1h-1zM558 367h1v1h-1zM556 368h2v1h-2zM555 369h1v1h-1zM553 370h2v1h-2zM552 371h1v1h-1zM550 372h2v1h-2zM549 373h1v1h-1zM548 374h1v1h-1zM546 375h2v1h-2zM545 376h1v1h-1zM544 377h1v1h-1zM543 378h1v1h-1zM542 379h1v1h-1zM542 380h1v1h-1zM541 381h1v1h-1zM540 382h1v1h-1zM539 383h1v1h-1zM538 384h1v1h-1zM537 385h1v1h-1zM536 386h1v1h-1zM535 387h1v1h-1zM535 388h1v1h-1zM534 389h1v1h-1zM533 390h1v1h-1zM532 391h1v1h-1zM531 392h1v1h-1zM531 393h1v1h-1zM530 394h1v1h-1zM529 395h1v1h-1zM528 396h1v1h-1zM528 397h1v1h-1zM527 398h1v1h-1zM526 399h1v1h-1zM525 400h1v1h-1zM525 401h1v1h-1zM524 402h1v1h-1zM523 403h1v1h-1zM523 404h1v1h-1zM522 405h1v1h-1zM521 406h1v1h-1zM520 407h1v1h-1zM520 408h1v1h-1zM519 409h1v1h-1zM518 410h1v1h-1zM517 411h1v1h-1zM517 412h1v1h-1zM516 413h1v1h-1zM515 414h1v1h-1zM514 415h1v1h-1zM513 416h1v1h-1zM512 417h1v1h-1zM511 418h1v1h-1zM510 419h1v1h-1zM509 420h1v1h-1zM508 421h1v1h-1zM507 422h1v1h-1zM506 423h1v1h-1zM506 424h1v1h-1zM505 425h1v1h-1zM504 426h1v1h-1zM503 427h1v1h-1zM502 428h1v1h-1zM501 429h1v1h-1zM501 430h1v1h-1zM500 431h1v1h-1zM499 432h1v1h-1zM498 433h1v1h-1zM497 434h1v1h-1zM496 435h1v1h-1zM495 436h1v1h-1zM494 437h1v1h-1zM493 438h1v1h-1zM491 439h2v1h-2zM490 440h1v1h-1zM489 441h1v1h-1zM488 442h1v1h-1zM487 443h1v1h-1zM486 444h1v1h-1zM485 445h1v1h-1zM484 446h1v1h-1zM483 447h1v1h-1zM482 448h1v1h-1zM480 449h2v1h-2zM479 450h1v1h-1zM478 451h1v1h-1zM477 452h1v1h-1zM476 453h1v1h-1zM475 454h1v1h-1zM473 455h2v1h-2zM472 456h1v1h-1zM471 457h1v1h-1zM470 458h1v1h-1zM469 459h1v1h-1zM468 460h1v1h-1zM467 461h1v1h-1zM466 462h1v1h-1zM465 463h1v1h-1zM464 464h1v1h-1zM463 465h1v1h-1zM462 466h1v1h-1zM461 467h1v1h-1zM461 468h1v1h-1zM460 469h1v1h-1zM459 470h1v1h-1zM458 471h1v1h-1zM457 472h1v1h-1zM456 473h1v1h-1zM455 474h1v1h-1zM454 475h1v1h-1zM453 476h1v1h-1zM452 477h1v1h-1zM451 478h1v1h-1zM450 479h1v1h-1zM449 480h1v1h-1zM448 481h1v1h-1zM447 482h1v1h-1zM446 483h1v1h-1zM445 484h1v1h-1zM444 485h1v1h-1zM443 486h1v1h-1zM442 487h1v1h-1zM441 488h1v1h-1zM440 489h1v1h-1zM439 490h1v1h-1zM438 491h1v1h-1zM437 492h1v1h-1zM436 493h1v1h-1zM435 494h1v1h-1zM434 495h1v1h-1zM433 496h1v1h-1zM431 497h2v1h-2zM430 498h1v1h-1zM429 499h1v1h-1zM428 500h1v1h-1zM427 501h1v1h-1zM426 502h1v1h-1zM425 503h1v1h-1zM424 504h1v1h-1zM423 505h1v1h-1zM421 506h2v1h-2zM420 507h1v1h-1zM419 508h1v1h-1zM418 509h1v1h-1zM417 510h1v1h-1zM416 511h1v1h-1zM415 512h1v1h-1zM414 513h1v1h-1zM413 514h1v1h-1zM412 515h1v1h-1zM410 516h2v1h-2zM409 517h1v1h-1zM408 518h1v1h-1zM407 519h1v1h-1zM406 520h1v1h-1zM405 521h1v1h-1zM404 522h1v1h-1zM403 523h1v1h-1zM402 524h1v1h-1zM402 525h1v1h-1zM401 526h1v1h-1zM400 527h1v1h-1zM399 528h1v1h-1zM398 529h1v1h-1zM397 530h1v1h-1zM397 531h1v1h-1zM396 532h1v1h-1zM395 533h1v1h-1zM394 534h1v1h-1zM393 535h1v1h-1zM392 536h1v1h-1zM391 537h1v1h-1zM390 538h1v1h-1zM389 539h1v1h-1zM388 540h1v1h-1zM387 541h1v1h-1zM386 542h1v1h-1zM385 543h1v1h-1zM384 544h1v1h-1zM383 545h1v1h-1zM381 546h2v1h-2zM377 547h4v1h-4zM373 548h4v1h-4zM370 549h3v1h-3zM366 550h4v1h-4zM362 551h4v1h-4zM359 552h3v1h-3zM355 553h4v1h-4zM352 554h3v1h-3zM349 555h3v1h-3zM345 556h4v1h-4zM342 557h3v1h-3zM338 558h4v1h-4zM187 559h37v1h-37zM333 559h5v1h-5zM177 560h10v1h-10zM224 560h4v1h-4zM327 560h6v1h-6zM170 561h7v1h-7zM228 561h5v1h-5zM322 561h5v1h-5zM161 562h9v1h-9zM233 562h7v1h-7zM318 562h4v1h-4zM148 563h13v1h-13zM240 563h8v1h-8zM314 563h4v1h-4zM137 564h11v1h-11zM248 564h17v1h-17zM310 564h4v1h-4zM131 565h6v1h-6zM265 565h18v1h-18zM307 565h3v1h-3zM125 566h6v1h-6zM283 566h12v1h-12zM303 566h4v1h-4zM121 567h4v1h-4zM295 567h8v1h-8zM118 568h3v1h-3zM115 569h3v1h-3zM112 570h3v1h-3zM108 571h4v1h-4zM103 572h5v1h-5zM98 573h5v1h-5zM94 574h4v1h-4zM89 575h5v1h-5zM85 576h4v1h-4zM82 577h3v1h-3zM79 578h3v1h-3zM76 579h3v1h-3zM73 580h3v1h-3zM70 581h3v1h-3zM67 582h3v1h-3zM64 583h3v1h-3zM61 584h3v1h-3zM59 585h2v1h-2zM57 586h2v1h-2zM54 587h3v1h-3zM52 588h2v1h-2zM50 589h2v1h-2zM48 590h2v1h-2zM46 591h2v1h-2zM45 592h1v1h-1zM43 593h2v1h-2zM41 594h2v1h-2zM40 595h1v1h-1zM38 596h2v1h-2zM36 597h2v1h-2zM32 598h4v1h-4zM0 599h3v1h-3zM29 599h3v1h-3zM3 600h6v1h-6zM25 600h4v1h-4zM9 601h16v1h-16z" fill="#3cb371"/>
<path d="M789 11h3v1h-3zM787 12h2v1h-2zM792 12h3v1h-3zM785 13h2v1h-2zM795 13h3v1h-3zM782 14h3v1h-3zM798 14h3v1h-3zM780 15h2v1h-2zM801 15h2v1h-2zM778 16h2v1h-2zM803 16h3v1h-3zM776 17h2v1h-2zM806 17h3v1h-3zM774 18h2v1h-2zM809 18h3v1h-3zM773 19h1v1h-1zM812 19h5v1h-5zM772 20h1v1h-1zM817 20h8v1h-8zM772 21h1v1h-1zM825 21h5v1h-5zM771 22h1v1h-1zM829 22h1v1h-1zM770 23h1v1h-1zM830 23h1v1h-1zM769 24h1v1h-1zM830 24h1v1h-1zM768 25h1v1h-1zM831 25h1v1h-1zM768 26h1v1h-1zM831 26h1v1h-1zM767 27h1v1h-1zM832 27h1v1h-1zM766 28h1v1h-1zM832 28h1v1h-1zM765 29h1v1h-1zM833 29h1v1h-1zM764 30h1v1h-1zM833 30h1v1h-1zM763 31h1v1h-1zM834 31h1v1h-1zM763 32h1v1h-1zM834 32h1v1h-1zM762 33h1v1h-1zM835 33h1v1h-1zM761 34h1v1h-1zM835 34h1v1h-1zM760 35h1v1h-1zM836 35h1v1h-1zM759 36h1v1h-1zM836 36h1v1h-1zM759 37h1v1h-1zM837 37h1v1h-1zM758 38h1v1h-1zM837 38h1v1h-1zM757 39h1v1h-1zM838 39h1v1h-1zM756 40h1v1h-1zM838 40h1v1h-1zM756 41h1v1h-1zM839 41h1v1h-1zM755 42h1v1h-1zM839 42h1v1h-1zM755 43h1v1h-1zM840 43h1v1h-1zM754 44h1v1h-1zM840 44h1v1h-1zM753 45h1v1h-1zM841 45h1v1h-1zM753 46h1v1h-1zM842 46h1v1h-1zM752 47h1v1h-1zM842 47h1v1h-1zM751 48h1v1h-1zM843 48h1v1h-1zM751 49h1v1h-1zM844 49h1v1h-1zM750 50h1v1h-1zM845 50h1v1h-1zM750 51h1v1h-1zM845 51h1v1h-1zM869 51h1v1h-1zM749 52h1v1h-1zM846 52h1v1h-1zM868 52h1v1h-1zM748 53h1v1h-1zM847 53h1v1h-1zM867 53h1v1h-1zM748 54h1v1h-1zM847 54h1v1h-1zM866 54h1v1h-1zM747 55h1v1h-1zM848 55h1v1h-1zM865 55h1v1h-1zM747 56h1v1h-1zM849 56h1v1h-1zM864 56h1v1h-1zM746 57h1v1h-1zM849 57h1v1h-1zM863 57h1v1h-1zM745 58h1v1h-1zM850 58h13v1h-13zM745 59h1v1h-1zM744 60h1v1h-1zM743 61h1v1h-1zM743 62h1v1h-1zM742 63h1v1h-1zM742 64h1v1h-1zM741 65h1v1h-1zM741 66h1v1h-1zM740 67h1v1h-1zM740 68h1v1h-1zM739 69h1v1h-1zM739 70h1v1h-1zM738 71h1v1h-1zM738 72h1v1h-1zM737 73h1v1h-1zM737 74h1v1h-1zM736 75h1v1h-1zM736 76h1v1h-1zM735 77h1v1h-1zM735 78h1v1h-1zM735 79h1v1h-1zM734 80h1v1h-1zM734 81h1v1h-1zM733 82h1v1h-1zM733 83h1v1h-1zM732 84h1v1h-1zM732 85h1v1h-1zM731 86h1v1h-1zM731 87h1v1h-1zM730 88h1v1h-1zM730 89h1v1h-1zM730 90h1v1h-1zM729 91h1v1h-1zM729 92h1v1h-1zM728 93h1v1h-1zM728 94h1v1h-1zM727 95h1v1h-1zM727 96h1v1h-1zM726 97h1v1h-1zM726 98h1v1h-1zM725 99h1v1h-1zM725 100h1v1h-1zM724 101h1v1h-1zM724 102h1v1h-1zM724 103h1v1h-1zM723 104h1v1h-1zM723 105h1v1h-1zM723 106h1v1h-1zM723 107h1v1h-1zM722 108h1v1h-1zM722 109h1v1h-1zM722 110h1v1h-1zM722 111h1v1h-1zM721 112h1v1h-1zM721 113h1v1h-1zM721 114h1v1h-1zM721 115h1v1h-1zM720 116h1v1h-1zM720 117h1v1h-1zM720 118h1v1h-1zM720 119h1v1h-1zM719 120h1v1h-1zM719 121h1v1h-1zM719 122h1v1h-1zM719 123h1v1h-1zM718 124h1v1h-1zM718 125h1v1h-1zM718 126h1v1h-1zM718 127h1v1h-1zM717 128h1v1h-1zM717 129h1v1h-1zM717 130h1v1h-1zM717 131h1v1h-1zM716 132h1v1h-1zM716 133h1v1h-1zM716 134h1v1h-1zM715 135h1v1h-1zM715 136h1v1h-1zM715 137h1v1h-1zM715 138h1v1h-1zM714 139h1v1h-1zM714 140h1v1h-1zM714 141h1v1h-1zM714 142h1v1h-1zM713 143h1v1h-1zM713 144h1v1h-1zM713 145h1v1h-1zM713 146h1v1h-1zM712 147h1v1h-1zM712 148h1v1h-1zM712 149h1v1h-1zM712 150h1v1h-1zM711 151h1v1h-1zM711 152h1v1h-1zM711 153h1v1h-1zM711 154h1v1h-1zM710 155h1v1h-1zM710 156h1v1h-1zM710 157h1v1h-1zM710 158h1v1h-1zM709 159h1v1h-1zM709 160h1v1h-1zM709 161h1v1h-1zM709 162h1v1h-1zM708 163h1v1h-1zM708 164h1v1h-1zM708 165h1v1h-1zM707 166h1v1h-1zM707 167h1v1h-1zM706 168h1v1h-1zM706 169h1v1h-1zM706 170h1v1h-1zM705 171h1v1h-1zM705 172h1v1h-1zM705 173h1v1h-1zM704 174h1v1h-1zM704 175h1v1h-1zM703 176h1v1h-1zM703 177h1v1h-1zM703 178h1v1h-1zM702 179h1v1h-1zM702 180h1v1h-1zM701 181h1v1h-1zM701 182h1v1h-1zM701 183h1v1h-1zM700 184h1v1h-1zM700 185h1v1h-1zM700 186h1v1h-1zM699 187h1v1h-1zM699 188h1v1h-1zM698 189h1v1h-1zM698 190h1v1h-1zM698 191h1v1h-1zM697 192h1v1h-1zM697 193h1v1h-1zM697 194h1v1h-1zM696 195h1v1h-1zM696 196h1v1h-1zM696 197h1v1h-1zM695 198h1v1h-1zM695 199h1v1h-1zM695 200h1v1h-1zM694 201h1v1h-1zM694 202h1v1h-1zM694 203h1v1h-1zM693 204h1v1h-1zM693 205h1v1h-1zM693 206h1v1h-1zM692 207h1v1h-1zM692 208h1v1h-1zM692 209h1v1h-1zM691 210h1v1h-1zM691 211h1v1h-1zM691 212h1v1h-1zM690 213h1v1h-1zM690 214h1v1h-1zM689 215h1v1h-1zM689 216h1v1h-1zM689 217h1v1h-1zM688 218h1v1h-1zM688 219h1v1h-1zM687 220h1v1h-1zM687 221h1v1h-1zM686 222h1v1h-1zM686 223h1v1h-1zM686 224h1v1h-1zM685 225h1v1h-1zM685 226h1v1h-1zM684 227h1v1h-1zM684 228h1v1h-1zM683 229h1v1h-1zM683 230h1v1h-1zM682 231h1v1h-1zM682 232h1v1h-1zM681 233h1v1h-1zM623 234h2v1h-2zM680 234h1v1h-1zM621 235h2v1h-2zM625 235h2v1h-2zM680 235h1v1h-1zM619 236h2v1h-2zM627 236h2v1h-2zM679 236h1v1h-1zM617 237h2v1h-2zM629 237h2v1h-2zM679 237h1v1h-1zM615 238h2v1h-2zM631 238h2v1h-2zM676 238h3v1h-3zM613 239h2v1h-2zM633 239h2v1h-2zM671 239h5v1h-5zM597 240h3v1h-3zM611 240h2v1h-2zM635 240h1v1h-1zM668 240h3v1h-3zM595 241h2v1h-2zM600 241h2v1h-2zM609 241h2v1h-2zM636 241h1v1h-1zM667 241h1v1h-1zM593 242h2v1h-2zM602 242h3v1h-3zM607 242h2v1h-2zM637 242h1v1h-1zM666 242h1v1h-1zM591 243h2v1h-2zM605 243h2v1h-2zM638 243h1v1h-1zM665 243h1v1h-1zM589 244h2v1h-2zM639 244h1v1h-1zM664 244h1v1h-1zM587 245h2v1h-2zM640 245h1v1h-1zM663 245h1v1h-1zM585 246h2v1h-2zM640 246h1v1h-1zM662 246h1v1h-1zM583 247h2v1h-2zM641 247h1v1h-1zM661 247h1v1h-1zM581 248h2v1h-2zM642 248h1v1h-1zM660 248h1v1h-1zM579 249h2v1h-2zM643 249h1v1h-1zM659 249h1v1h-1zM578 250h1v1h-1zM644 250h1v1h-1zM658 250h1v1h-1zM565 251h3v1h-3zM576 251h2v1h-2zM645 251h2v1h-2zM657 251h1v1h-1zM563 252h2v1h-2zM568 252h4v1h-4zM574 252h2v1h-2zM647 252h3v1h-3zM656 252h1v1h-1zM561 253h2v1h-2zM572 253h2v1h-2zM650 253h3v1h-3zM655 253h1v1h-1zM559 254h2v1h-2zM653 254h2v1h-2zM557 255h2v1h-2zM555 256h2v1h-2zM554 257h1v1h-1zM553 258h1v1h-1zM552 259h1v1h-1zM551 260h1v1h-1zM551 261h1v1h-1zM550 262h1v1h-1zM549 263h1v1h-1zM548 264h1v1h-1zM547 265h1v1h-1zM546 266h1v1h-1zM545 267h1v1h-1zM545 268h1v1h-1zM544 269h1v1h-1zM543 270h1v1h-1zM542 271h1v1h-1zM542 272h1v1h-1zM541 273h1v1h-1zM541 274h1v1h-1zM540 275h1v1h-1zM540 276h1v1h-1zM540 277h1v1h-1zM539 278h1v1h-1zM539 279h1v1h-1zM538 280h1v1h-1zM538 281h1v1h-1zM537 282h1v1h-1zM537 283h1v1h-1zM537 284h1v1h-1zM536 285h1v1h-1zM536 286h1v1h-1zM535 287h1v1h-1zM535 288h1v1h-1zM534 289h1v1h-1zM533 290h1v1h-1zM533 291h1v1h-1zM532 292h1v1h-1zM531 293h1v1h-1zM530 294h1v1h-1zM529 295h1v1h-1zM529 296h1v1h-1zM528 297h1v1h-1zM527 298h1v1h-1zM526 299h1v1h-1zM525 300h1v1h-1zM524 301h1v1h-1zM524 302h1v1h-1zM523 303h1v1h-1zM522 304h1v1h-1zM521 305h1v1h-1zM520 306h1v1h-1zM519 307h1v1h-1zM518 308h1v1h-1zM517 309h1v1h-1zM516 310h1v1h-1zM515 311h1v1h-1zM514 312h1v1h-1zM513 313h1v1h-1zM512 314h1v1h-1zM511 315h1v1h-1zM511 316h1v1h-1zM510 317h1v1h-1zM509 318h1v1h-1zM508 319h1v1h-1zM508 320h1v1h-1zM507 321h1v1h-1zM506 322h1v1h-1zM506 323h1v1h-1zM505 324h1v1h-1zM504 325h1v1h-1zM503 326h1v1h-1zM503 327h1v1h-1zM502 328h1v1h-1zM501 329h1v1h-1zM500 330h1v1h-1zM500 331h1v1h-1zM499 332h1v1h-1zM499 333h1v1h-1zM498 334h1v1h-1zM498 335h1v1h-1zM497 336h1v1h-1zM497 337h1v1h-1zM497 338h1v1h-1zM496 339h1v1h-1zM496 340h1v1h-1zM496 341h1v1h-1zM495 342h1v1h-1zM495 343h1v1h-1zM494 344h1v1h-1zM494 345h1v1h-1zM493 346h1v1h-1zM491 347h2v1h-2zM490 348h1v1h-1zM489 349h1v1h-1zM487 350h2v1h-2zM486 351h1v1h-1zM484 352h2v1h-2zM482 353h2v1h-2zM480 354h2v1h-2zM474 355h6v1h-6zM469 356h5v1h-5zM467 357h2v1h-2zM466 358h1v1h-1zM465 359h1v1h-1zM463 360h2v1h-2zM462 361h1v1h-1zM460 362h2v1h-2zM459 363h1v1h-1zM458 364h1v1h-1zM456 365h2v1h-2zM455 366h1v1h-1zM453 367h2v1h-2zM451 368h2v1h-2zM450 369h1v1h-1zM448 370h2v1h-2zM447 371h1v1h-1zM445 372h2v1h-2zM443 373h2v1h-2zM442 374h1v1h-1zM440 375h2v1h-2zM438 376h2v1h-2zM436 377h2v1h-2zM434 378h2v1h-2zM432 379h2v1h-2zM431 380h1v1h-1zM430 381h1v1h-1zM429 382h1v1h-1zM428 383h1v1h-1zM427 384h1v1h-1zM426 385h1v1h-1zM426 386h1v1h-1zM425 387h1v1h-1zM424 388h1v1h-1zM423 389h1v1h-1zM422 390h1v1h-1zM421 391h1v1h-1zM421 392h1v1h-1zM420 393h1v1h-1zM420 394h1v1h-1zM419 395h1v1h-1zM419 396h1v1h-1zM418 397h1v1h-1zM418 398h1v1h-1zM418 399h1v1h-1zM417 400h1v1h-1zM417 401h1v1h-1zM416 402h1v1h-1zM416 403h1v1h-1zM415 404h1v1h-1zM415 405h1v1h-1zM414 406h1v1h-1zM413 407h2v1h-2zM411 408h2v1h-2zM409 409h2v1h-2zM407 410h2v1h-2zM405 411h2v1h-2zM404 412h1v1h-1zM403 413h1v1h-1zM403 414h1v1h-1zM402 415h1v1h-1zM402 416h1v1h-1zM401 417h1v1h-1zM400 418h1v1h-1zM400 419h1v1h-1zM399 420h1v1h-1zM399 421h1v1h-1zM398 422h1v1h-1zM397 423h1v1h-1zM397 424h1v1h-1zM396 425h1v1h-1zM396 426h1v1h-1zM395 427h1v1h-1zM395 428h1v1h-1zM394 429h1v1h-1zM394 430h1v1h-1zM394 431h1v1h-1zM394 432h1v1h-1zM393 433h1v1h-1zM393 434h1v1h-1zM393 435h1v1h-1zM392 436h1v1h-1zM392 437h1v1h-1zM392 438h1v1h-1zM392 439h1v1h-1zM391 440h1v1h-1zM391 441h1v1h-1zM391 442h1v1h-1zM391 443h1v1h-1zM390 444h1v1h-1zM390 445h1v1h-1zM390 446h1v1h-1zM389 447h1v1h-1zM389 448h1v1h-1zM389 449h1v1h-1zM389 450h1v1h-1zM388 451h1v1h-1zM388 452h1v1h-1zM388 453h1v1h-1zM387 454h1v1h-1zM387 455h1v1h-1zM387 456h1v1h-1zM386 457h1v1h-1zM386 458h1v1h-1zM386 459h1v1h-1zM385 460h1v1h-1zM385 461h1v1h-1zM385 462h1v1h-1zM384 463h1v1h-1zM384 464h1v1h-1zM384 465h1v1h-1zM383 466h1v1h-1zM383 467h1v1h-1zM383 468h1v1h-1zM382 469h1v1h-1zM382 470h1v1h-1zM382 471h1v1h-1zM381 472h1v1h-1zM381 473h1v1h-1zM381 474h1v1h-1zM380 475h1v1h-1zM380 476h1v1h-1zM379 477h1v1h-1zM378 478h1v1h-1zM377 479h1v1h-1zM375 480h2v1h-2zM374 481h1v1h-1zM373 482h1v1h-1zM372 483h1v1h-1zM371 484h1v1h-1zM370 485h1v1h-1zM369 486h1v1h-1zM368 487h1v1h-1zM367 488h1v1h-1zM366 489h1v1h-1zM365 490h1v1h-1zM363 491h2v1h-2zM362 492h1v1h-1zM361 493h1v1h-1zM360 494h1v1h-1zM359 495h1v1h-1zM358 496h1v1h-1zM356 497h2v1h-2zM354 498h2v1h-2zM352 499h2v1h-2zM350 500h2v1h-2zM348 501h2v1h-2zM346 502h2v1h-2zM344 503h2v1h-2zM342 504h2v1h-2zM340 505h2v1h-2zM338 506h2v1h-2zM336 507h2v1h-2zM334 508h2v1h-2zM332 509h2v1h-2zM331 510h1v1h-1zM330 511h1v1h-1zM329 512h1v1h-1zM328 513h1v1h-1zM327 514h1v1h-1zM326 515h1v1h-1zM325 516h1v1h-1zM324 517h1v1h-1zM323 518h1v1h-1zM322 519h1v1h-1zM321 520h1v1h-1zM320 521h1v1h-1zM242 522h35v1h-35zM319 522h1v1h-1zM229 523h13v1h-13zM277 523h13v1h-13zM315 523h4v1h-4zM221 524h8v1h-8zM290 524h4v1h-4zM309 524h6v1h-6zM187 525h13v1h-13zM215 525h6v1h-6zM294 525h4v1h-4zM303 525h6v1h-6zM76 526h8v1h-8zM185 526h2v1h-2zM200 526h2v1h-2zM213 526h2v1h-2zM298 526h5v1h-5zM73 527h3v1h-3zM84 527h4v1h-4zM183 527h2v1h-2zM202 527h2v1h-2zM211 527h2v1h-2zM56 528h17v1h-17zM88 528h20v1h-20zM180 528h3v1h-3zM204 528h2v1h-2zM209 528h2v1h-2zM53 529h3v1h-3zM108 529h2v1h-2zM178 529h2v1h-2zM206 529h3v1h-3zM50 530h3v1h-3zM110 530h2v1h-2zM138 530h12v1h-12zM176 530h2v1h-2zM48 531h2v1h-2zM112 531h2v1h-2zM135 531h3v1h-3zM150 531h2v1h-2zM174 531h2v1h-2zM47 532h1v1h-1zM114 532h2v1h-2zM132 532h3v1h-3zM152 532h2v1h-2zM170 532h4v1h-4zM46 533h1v1h-1zM116 533h16v1h-16zM154 533h2v1h-2zM166 533h4v1h-4zM46 534h1v1h-1zM156 534h2v1h-2zM162 534h4v1h-4zM45 535h1v1h-1zM158 535h4v1h-4zM44 536h1v1h-1zM43 537h1v1h-1zM42 538h1v1h-1zM41 539h1v1h-1zM41 540h1v1h-1zM40 541h1v1h-1zM39 542h1v1h-1zM38 543h1v1h-1zM37 544h1v1h-1zM36 545h1v1h-1zM34 546h2v1h-2zM33 547h1v1h-1zM32 548h1v1h-1zM31 549h1v1h-1zM0 550h2v1h-2zM28 550h3v1h-3zM2 551h4v1h-4zM24 551h4v1h-4zM6 552h3v1h-3zM20 552h4v1h-4zM9 553h4v1h-4zM16 553h4v1h-4zM13 554h3v1h-3z" fill="#3cb371"/>
<path d="M869 244h1v1h-1zM868 245h1v1h-1zM866 246h2v1h-2zM865 247h1v1h-1zM864 248h1v1h-1zM863 249h1v1h-1zM861 250h2v1h-2zM860 251h1v1h-1zM859 252h1v1h-1zM858 253h1v1h-1zM857 254h1v1h-1zM855 255h2v1h-2zM854 256h1v1h-1zM853 257h1v1h-1zM852 258h1v1h-1zM851 259h1v1h-1zM849 260h2v1h-2zM848 261h1v1h-1zM847 262h1v1h-1zM846 263h1v1h-1zM845 264h1v1h-1zM844 265h1v1h-1zM842 266h2v1h-2zM841 267h1v1h-1zM840 268h1v1h-1zM839 269h1v1h-1zM838 270h1v1h-1zM837 271h1v1h-1zM835 272h2v1h-2zM834 273h1v1h-1zM833 274h1v1h-1zM832 275h1v1h-1zM831 276h1v1h-1zM830 277h1v1h-1zM829 278h1v1h-1zM828 279h1v1h-1zM827 280h1v1h-1zM825 281h2v1h-2zM824 282h1v1h-1zM823 283h1v1h-1zM822 284h1v1h-1zM821 285h1v1h-1zM820 286h1v1h-1zM819 287h1v1h-1zM818 288h1v1h-1zM817 289h1v1h-1zM816 290h1v1h-1zM815 291h1v1h-1zM814 292h1v1h-1zM813 293h1v1h-1zM811 294h2v1h-2zM810 295h1v1h-1zM809 296h1v1h-1zM808 297h1v1h-1zM807 298h1v1h-1zM806 299h1v1h-1zM805 300h1v1h-1zM803 301h2v1h-2zM802 302h1v1h-1zM800 303h2v1h-2zM798 304h2v1h-2zM797 305h1v1h-1zM795 306h2v1h-2zM794 307h1v1h-1zM793 308h1v1h-1zM792 309h1v1h-1zM791 310h1v1h-1zM790 311h1v1h-1zM789 312h1v1h-1zM788 313h1v1h-1zM786 314h2v1h-2zM785 315h1v1h-1zM784 316h1v1h-1zM783 317h1v1h-1zM782 318h1v1h-1zM781 319h1v1h-1zM780 320h1v1h-1zM779 321h1v1h-1zM778 322h1v1h-1zM777 323h1v1h-1zM776 324h1v1h-1zM775 325h1v1h-1zM774 326h1v1h-1zM773 327h1v1h-1zM772 328h1v1h-1zM771 329h1v1h-1zM770 330h1v1h-1zM769 331h1v1h-1zM768 332h1v1h-1zM767 333h1v1h-1zM766 334h1v1h-1zM765 335h1v1h-1zM764 336h1v1h-1zM763 337h1v1h-1zM762 338h1v1h-1zM761 339h1v1h-1zM760 340h1v1h-1zM759 341h1v1h-1zM758 342h1v1h-1zM757 343h1v1h-1zM756 344h1v1h-1zM755 345h1v1h-1zM754 346h1v1h-1zM753 347h1v1h-1zM752 348h1v1h-1zM751 349h1v1h-1zM750 350h1v1h-1zM749 351h1v1h-1zM748 352h1v1h-1zM747 353h1v1h-1zM746 354h1v1h-1zM745 355h1v1h-1zM744 356h1v1h-1zM743 357h1v1h-1zM742 358h1v1h-1zM741 359h1v1h-1zM740 360h1v1h-1zM739 361h1v1h-1zM738 362h1v1h-1zM737 363h1v1h-1zM736 364h1v1h-1zM735 365h1v1h-1zM734 366h1v1h-1zM733 367h1v1h-1zM733 368h1v1h-1zM732 369h1v1h-1zM731 370h1v1h-1zM730 371h1v1h-1zM729 372h1v1h-1zM728 373h1v1h-1zM727 374h1v1h-1zM726 375h1v1h-1zM725 376h1v1h-1zM724 377h1v1h-1zM723 378h1v1h-1zM722 379h1v1h-1zM721 380h1v1h-1zM720 381h1v1h-1zM719 382h1v1h-1zM718 383h1v1h-1zM717 384h1v1h-1zM716 385h1v1h-1zM715 386h1v1h-1zM714 387h1v1h-1zM713 388h1v1h-1zM712 389h1v1h-1zM711 390h1v1h-1zM710 391h1v1h-1zM709 392h1v1h-1zM708 393h1v1h-1zM707 394h1v1h-1zM706 395h1v1h-1zM705 396h1v1h-1zM704 397h1v1h-1zM703 398h1v1h-1zM702 399h1v1h-1zM700 400h2v1h-2zM699 401h1v1h-1zM698 402h1v1h-1zM696 403h2v1h-2zM695 404h1v1h-1zM694 405h1v1h-1zM692 406h2v1h-2zM691 407h1v1h-1zM690 408h1v1h-1zM688 409h2v1h-2zM686 410h2v1h-2zM685 411h1v1h-1zM683 412h2v1h-2zM682 413h1v1h-1zM680 414h2v1h-2zM678 415h2v1h-2zM677 416h1v1h-1zM675 417h2v1h-2zM674 418h1v1h-1zM672 419h2v1h-2zM671 420h1v1h-1zM669 421h2v1h-2zM668 422h1v1h-1zM666 423h2v1h-2zM665 424h1v1h-1zM663 425h2v1h-2zM661 426h2v1h-2zM660 427h1v1h-1zM658 428h2v1h-2zM657 429h1v1h-1zM655 430h2v1h-2zM654 431h1v1h-1zM652 432h2v1h-2zM651 433h1v1h-1zM649 434h2v1h-2zM648 435h1v1h-1zM646 436h2v1h-2zM645 437h1v1h-1zM643 438h2v1h-2zM642 439h1v1h-1zM640 440h2v1h-2zM639 441h1v1h-1zM637 442h2v1h-2zM636 443h1v1h-1zM634 444h2v1h-2zM632 445h2v1h-2zM631 446h1v1h-1zM629 447h2v1h-2zM628 448h1v1h-1zM626 449h2v1h-2zM625 450h1v1h-1zM623 451h2v1h-2zM622 452h1v1h-1zM620 453h2v1h-2zM619 454h1v1h-1zM617 455h2v1h-2zM615 456h2v1h-2zM613 457h2v1h-2zM611 458h2v1h-2zM609 459h2v1h-2zM607 460h2v1h-2zM605 461h2v1h-2zM604 462h1v1h-1zM602 463h2v1h-2zM600 464h2v1h-2zM598 465h2v1h-2zM596 466h2v1h-2zM594 467h2v1h-2zM592 468h2v1h-2zM590 469h2v1h-2zM588 470h2v1h-2zM586 471h2v1h-2zM584 472h2v1h-2zM582 473h2v1h-2zM579 474h3v1h-3zM577 475h2v1h-2zM575 476h2v1h-2zM573 477h2v1h-2zM571 478h2v1h-2zM569 479h2v1h-2zM567 480h2v1h-2zM565 481h2v1h-2zM563 482h2v1h-2zM561 483h2v1h-2zM559 484h2v1h-2zM557 485h2v1h-2zM555 486h2v1h-2zM553 487h2v1h-2zM551 488h2v1h-2zM550 489h1v1h-1zM548 490h2v1h-2zM547 491h1v1h-1zM545 492h2v1h-2zM543 493h2v1h-2zM542 494h1v1h-1zM540 495h2v1h-2zM539 496h1v1h-1zM537 497h2v1h-2zM535 498h2v1h-2zM534 499h1v1h-1zM532 500h2v1h-2zM530 501h2v1h-2zM528 502h2v1h-2zM527 503h1v1h-1zM525 504h2v1h-2zM523 505h2v1h-2zM522 506h1v1h-1zM520 507h2v1h-2zM518 508h2v1h-2zM516 509h2v1h-2zM514 510h2v1h-2zM512 511h2v1h-2zM509 512h3v1h-3zM507 513h2v1h-2zM504 514h3v1h-3zM502 515h2v1h-2zM499 516h3v1h-3zM497 517h2v1h-2zM495 518h2v1h-2zM492 519h3v1h-3zM490 520h2v1h-2zM488 521h2v1h-2zM486 522h2v1h-2zM483 523h3v1h-3zM481 524h2v1h-2zM479 525h2v1h-2zM476 526h3v1h-3zM473 527h3v1h-3zM470 528h3v1h-3zM467 529h3v1h-3zM465 530h2v1h-2zM462 531h3v1h-3zM459 532h3v1h-3zM456 533h3v1h-3zM453 534h3v1h-3zM451 535h2v1h-2zM448 536h3v1h-3zM446 537h2v1h-2zM443 538h3v1h-3zM441 539h2v1h-2zM439 540h2v1h-2zM436 541h3v1h-3zM434 542h2v1h-2zM431 543h3v1h-3zM429 544h2v1h-2zM427 545h2v1h-2zM424 546h3v1h-3zM422 547h2v1h-2zM419 548h3v1h-3zM417 549h2v1h-2zM415 550h2v1h-2zM412 551h3v1h-3zM410 552h2v1h-2zM407 553h3v1h-3zM405 554h2v1h-2zM0 555h3v1h-3zM402 555h3v1h-3zM3 556h5v1h-5zM400 556h2v1h-2zM8 557h5v1h-5zM398 557h2v1h-2zM13 558h5v1h-5zM395 558h3v1h-3zM18 559h5v1h-5zM393 559h2v1h-2zM23 560h5v1h-5zM390 560h3v1h-3zM28 561h5v1h-5zM387 561h3v1h-3zM33 562h4v1h-4zM384 562h3v1h-3zM37 563h5v1h-5zM381 563h3v1h-3zM42 564h4v1h-4zM378 564h3v1h-3zM46 565h5v1h-5zM375 565h3v1h-3zM51 566h5v1h-5zM372 566h3v1h-3zM56 567h4v1h-4zM368 567h4v1h-4zM60 568h8v1h-8zM364 568h4v1h-4zM68 569h10v1h-10zM360 569h4v1h-4zM78 570h11v1h-11zM356 570h4v1h-4zM89 571h10v1h-10zM352 571h4v1h-4zM99 572h9v1h-9zM201 572h40v1h-40zM338 572h5v1h-5zM348 572h4v1h-4zM108 573h10v1h-10zM187 573h14v1h-14zM241 573h40v1h-40zM332 573h6v1h-6zM343 573h5v1h-5zM118 574h9v1h-9zM170 574h17v1h-17zM281 574h13v1h-13zM315 574h17v1h-17zM127 575h8v1h-8zM161 575h9v1h-9zM294 575h21v1h-21zM135 576h26v1h-26z" fill="#191970"/>
<path d="M866 142h1v1h-1zM865 143h1v1h-1zM864 144h1v1h-1zM863 145h1v1h-1zM862 146h1v1h-1zM861 147h1v1h-1zM860 148h1v1h-1zM859 149h1v1h-1zM858 150h1v1h-1zM857 151h1v1h-1zM856 152h1v1h-1zM855 153h1v1h-1zM853 154h2v1h-2zM852 155h1v1h-1zM851 156h1v1h-1zM849 157h2v1h-2zM848 158h1v1h-1zM847 159h1v1h-1zM846 160h1v1h-1zM844 161h2v1h-2zM843 162h1v1h-1zM842 163h1v1h-1zM841 164h1v1h-1zM840 165h1v1h-1zM839 166h1v1h-1zM838 167h1v1h-1zM836 168h2v1h-2zM835 169h1v1h-1zM834 170h1v1h-1zM833 171h1v1h-1zM832 172h1v1h-1zM831 173h1v1h-1zM830 174h1v1h-1zM829 175h1v1h-1zM828 176h1v1h-1zM826 177h2v1h-2zM825 178h1v1h-1zM824 179h1v1h-1zM823 180h1v1h-1zM822 181h1v1h-1zM821 182h1v1h-1zM820 183h1v1h-1zM818 184h2v1h-2zM817 185h1v1h-1zM816 186h1v1h-1zM815 187h1v1h-1zM813 188h2v1h-2zM812 189h1v1h-1zM811 190h1v1h-1zM810 191h1v1h-1zM809 192h1v1h-1zM807 193h2v1h-2zM806 194h1v1h-1zM805 195h1v1h-1zM804 196h1v1h-1zM802 197h2v1h-2zM801 198h1v1h-1zM800 199h1v1h-1zM799 200h1v1h-1zM798 201h1v1h-1zM797 202h1v1h-1zM796 203h1v1h-1zM795 204h1v1h-1zM794 205h1v1h-1zM793 206h1v1h-1zM791 207h2v1h-2zM790 208h1v1h-1zM789 209h1v1h-1zM788 210h1v1h-1zM787 211h1v1h-1zM786 212h1v1h-1zM785 213h1v1h-1zM784 214h1v1h-1zM783 215h1v1h-1zM781 216h2v1h-2zM779 217h2v1h-2zM777 218h2v1h-2zM775 219h2v1h-2zM774 220h1v1h-1zM773 221h1v1h-1zM772 222h1v1h-1zM771 223h1v1h-1zM769 224h2v1h-2zM768 225h1v1h-1zM767 226h1v1h-1zM766 227h1v1h-1zM765 228h1v1h-1zM764 229h1v1h-1zM763 230h1v1h-1zM762 231h1v1h-1zM760 232h2v1h-2zM759 233h1v1h-1zM758 234h1v1h-1zM756 235h2v1h-2zM755 236h1v1h-1zM754 237h1v1h-1zM753 238h1v1h-1zM751 239h2v1h-2zM750 240h1v1h-1zM749 241h1v1h-1zM747 242h2v1h-2zM746 243h1v1h-1zM745 244h1v1h-1zM744 245h1v1h-1zM743 246h1v1h-1zM742 247h1v1h-1zM741 248h1v1h-1zM739 249h2v1h-2zM738 250h1v1h-1zM737 251h1v1h-1zM736 252h1v1h-1zM735 253h1v1h-1zM734 254h1v1h-1zM733 255h1v1h-1zM732 256h1v1h-1zM731 257h1v1h-1zM731 258h1v1h-1zM730 259h1v1h-1zM729 260h1v1h-1zM728 261h1v1h-1zM728 262h1v1h-1zM727 263h1v1h-1zM726 264h1v1h-1zM725 265h1v1h-1zM724 266h1v1h-1zM724 267h1v1h-1zM723 268h1v1h-1zM722 269h1v1h-1zM721 270h1v1h-1zM721 271h1v1h-1zM720 272h1v1h-1zM719 273h1v1h-1zM718 274h1v1h-1zM717 275h1v1h-1zM717 276h1v1h-1zM716 277h1v1h-1zM715 278h1v1h-1zM714 279h1v1h-1zM713 280h1v1h-1zM713 281h1v1h-1zM712 282h1v1h-1zM711 283h1v1h-1zM710 284h1v1h-1zM709 285h1v1h-1zM709 286h1v1h-1zM708 287h1v1h-1zM707 288h1v1h-1zM706 289h1v1h-1zM705 290h1v1h-1zM704 291h1v1h-1zM703 292h1v1h-1zM702 293h1v1h-1zM702 294h1v1h-1zM701 295h1v1h-1zM700 296h1v1h-1zM699 297h1v1h-1zM698 298h1v1h-1zM697 299h1v1h-1zM696 300h1v1h-1zM695 301h1v1h-1zM694 302h1v1h-1zM693 303h1v1h-1zM692 304h1v1h-1zM691 305h1v1h-1zM690 306h1v1h-1zM689 307h1v1h-1zM688 308h1v1h-1zM686 309h2v1h-2zM685 310h1v1h-1zM684 311h1v1h-1zM683 312h1v1h-1zM682 313h1v1h-1zM681 314h1v1h-1zM680 315h1v1h-1zM679 316h1v1h-1zM678 317h1v1h-1zM677 318h1v1h-1zM675 319h2v1h-2zM673 320h2v1h-2zM671 321h2v1h-2zM670 322h1v1h-1zM668 323h2v1h-2zM666 324h2v1h-2zM664 325h2v1h-2zM663 326h1v1h-1zM661 327h2v1h-2zM659 328h2v1h-2zM657 329h2v1h-2zM656 330h1v1h-1zM655 331h1v1h-1zM653 332h2v1h-2zM652 333h1v1h-1zM651 334h1v1h-1zM650 335h1v1h-1zM648 336h2v1h-2zM647 337h1v1h-1zM646 338h1v1h-1zM645 339h1v1h-1zM643 340h2v1h-2zM642 341h1v1h-1zM640 342h2v1h-2zM638 343h2v1h-2zM636 344h2v1h-2zM634 345h2v1h-2zM631 346h3v1h-3zM629 347h2v1h-2zM627 348h2v1h-2zM625 349h2v1h-2zM623 350h2v1h-2zM622 351h1v1h-1zM620 352h2v1h-2zM619 353h1v1h-1zM618 354h1v1h-1zM617 355h1v1h-1zM616 356h1v1h-1zM614 357h2v1h-2zM613 358h1v1h-1zM612 359h1v1h-1zM611 360h1v1h-1zM610 361h1v1h-1zM608 362h2v1h-2zM607 363h1v1h-1zM606 364h1v1h-1zM605 365h1v1h-1zM604 366h1v1h-1zM602 367h2v1h-2zM601 368h1v1h-1zM600 369h1v1h-1zM599 370h1v1h-1zM598 371h1v1h-1zM597 372h1v1h-1zM596 373h1v1h-1zM595 374h1v1h-1zM594 375h1v1h-1zM593 376h1v1h-1zM592 377h1v1h-1zM591 378h1v1h-1zM590 379h1v1h-1zM589 380h1v1h-1zM588 381h1v1h-1zM586 382h2v1h-2zM585 383h1v1h-1zM584 384h1v1h-1zM583 385h1v1h-1zM582 386h1v1h-1zM581 387h1v1h-1zM580 388h1v1h-1zM579 389h1v1h-1zM578 390h1v1h-1zM577 391h1v1h-1zM576 392h1v1h-1zM575 393h1v1h-1zM574 394h1v1h-1zM572 395h2v1h-2zM571 396h1v1h-1zM569 397h2v1h-2zM567 398h2v1h-2zM566 399h1v1h-1zM564 400h2v1h-2zM563 401h1v1h-1zM561 402h2v1h-2zM560 403h1v1h-1zM558 404h2v1h-2zM556 405h2v1h-2zM555 406h1v1h-1zM553 407h2v1h-2zM552 408h1v1h-1zM552 409h1v1h-1zM551 410h1v1h-1zM551 411h1v1h-1zM550 412h1v1h-1zM550 413h1v1h-1zM549 414h1v1h-1zM549 415h1v1h-1zM548 416h1v1h-1zM548 417h1v1h-1zM547 418h1v1h-1zM547 419h1v1h-1zM546 420h1v1h-1zM545 421h1v1h-1zM544 422h1v1h-1zM544 423h1v1h-1zM543 424h1v1h-1zM542 425h1v1h-1zM541 426h1v1h-1zM540 427h1v1h-1zM539 428h1v1h-1zM539 429h1v1h-1zM538 430h1v1h-1zM537 431h1v1h-1zM536 432h1v1h-1zM535 433h1v1h-1zM534 434h1v1h-1zM533 435h1v1h-1zM532 436h1v1h-1zM531 437h1v1h-1zM530 438h1v1h-1zM529 439h1v1h-1zM528 440h1v1h-1zM527 441h1v1h-1zM526 442h1v1h-1zM525 443h1v1h-1zM524 444h1v1h-1zM523 445h1v1h-1zM523 446h1v1h-1zM522 447h1v1h-1zM521 448h1v1h-1zM520 449h1v1h-1zM519 450h1v1h-1zM518 451h1v1h-1zM517 452h1v1h-1zM516 453h1v1h-1zM516 454h1v1h-1zM515 455h1v1h-1zM514 456h1v1h-1zM513 457h1v1h-1zM512 458h1v1h-1zM511 459h1v1h-1zM510 460h1v1h-1zM509 461h1v1h-1zM508 462h1v1h-1zM507 463h1v1h-1zM506 464h1v1h-1zM505 465h1v1h-1zM505 466h1v1h-1zM504 467h1v1h-1zM503 468h1v1h-1zM502 469h1v1h-1zM501 470h1v1h-1zM500 471h1v1h-1zM499 472h1v1h-1zM498 473h1v1h-1zM497 474h1v1h-1zM496 475h1v1h-1zM495 476h1v1h-1zM494 477h1v1h-1zM493 478h1v1h-1zM491 479h2v1h-2zM490 480h1v1h-1zM489 481h1v1h-1zM488 482h1v1h-1zM487 483h1v1h-1zM486 484h1v1h-1zM485 485h1v1h-1zM484 486h1v1h-1zM483 487h1v1h-1zM481 488h2v1h-2zM480 489h1v1h-1zM479 490h1v1h-1zM477 491h2v1h-2zM476 492h1v1h-1zM475 493h1v1h-1zM474 494h1v1h-1zM472 495h2v1h-2zM471 496h1v1h-1zM469 497h2v1h-2zM467 498h2v1h-2zM465 499h2v1h-2zM463 500h2v1h-2zM461 501h2v1h-2zM459 502h2v1h-2zM458 503h1v1h-1zM456 504h2v1h-2zM455 505h1v1h-1zM453 506h2v1h-2zM452 507h1v1h-1zM450 508h2v1h-2zM448 509h2v1h-2zM447 510h1v1h-1zM445 511h2v1h-2zM444 512h1v1h-1zM442 513h2v1h-2zM441 514h1v1h-1zM439 515h2v1h-2zM438 516h1v1h-1zM437 517h1v1h-1zM435 518h2v1h-2zM434 519h1v1h-1zM432 520h2v1h-2zM431 521h1v1h-1zM429 522h2v1h-2zM428 523h1v1h-1zM427 524h1v1h-1zM425 525h2v1h-2zM423 526h2v1h-2zM421 527h2v1h-2zM419 528h2v1h-2zM417 529h2v1h-2zM415 530h2v1h-2zM412 531h3v1h-3zM409 532h3v1h-3zM406 533h3v1h-3zM404 534h2v1h-2zM401 535h3v1h-3zM399 536h2v1h-2zM398 537h1v1h-1zM396 538h2v1h-2zM395 539h1v1h-1zM394 540h1v1h-1zM393 541h1v1h-1zM392 542h1v1h-1zM390 543h2v1h-2zM389 544h1v1h-1zM388 545h1v1h-1zM386 546h2v1h-2zM384 547h2v1h-2zM382 548h2v1h-2zM380 549h2v1h-2zM378 550h2v1h-2zM376 551h2v1h-2zM372 552h4v1h-4zM364 553h8v1h-8zM359 554h5v1h-5zM355 555h4v1h-4zM352 556h3v1h-3zM349 557h3v1h-3zM345 558h4v1h-4zM342 559h3v1h-3zM231 560h11v1h-11zM337 560h5v1h-5zM221 561h10v1h-10zM242 561h14v1h-14zM330 561h7v1h-7zM212 562h9v1h-9zM256 562h12v1h-12zM323 562h7v1h-7zM205 563h7v1h-7zM268 563h9v1h-9zM316 563h7v1h-7zM201 564h4v1h-4zM277 564h10v1h-10zM309 564h7v1h-7zM196 565h5v1h-5zM287 565h22v1h-22zM192 566h4v1h-4zM187 567h5v1h-5zM183 568h4v1h-4zM177 569h6v1h-6zM173 570h4v1h-4zM169 571h4v1h-4zM165 572h4v1h-4zM162 573h3v1h-3zM158 574h4v1h-4zM154 575h4v1h-4zM150 576h4v1h-4zM145 577h5v1h-5zM141 578h4v1h-4zM137 579h4v1h-4zM133 580h4v1h-4zM130 581h3v1h-3zM127 582h3v1h-3zM30 583h37v1h-37zM123 583h4v1h-4zM13 584h17v1h-17zM67 584h10v1h-10zM117 584h6v1h-6zM5 585h8v1h-8zM77 585h4v1h-4zM112 585h5v1h-5zM0 586h5v1h-5zM81 586h6v1h-6zM108 586h4v1h-4zM87 587h21v1h-21z" fill="#ff1493"/>
<rect x="721" y="60" width="301" height="5" fill="#000"/>
<rect x="678" y="139" width="333" height="3" fill="#000"/>
<line x1="682" y1="289" x2="739.0" y2="67.8" stroke="#0000ff" stroke-width="3"/>
<polygon points="740.5,62.0 743.1,74.0 732.4,71.3" fill="#0000ff"/>
<line x1="740.5" y1="62" x2="753.2" y2="132.1" stroke="#0000ff" stroke-width="3"/>
<polygon points="754.3,138.0 746.9,128.2 757.7,126.2" fill="#0000ff"/>
<line x1="754.3" y1="138" x2="771.0" y2="70.8" stroke="#0000ff" stroke-width="3"/>
<polygon points="772.5,65.0 775.2,77.0 764.5,74.3" fill="#0000ff"/>
<line x1="772.5" y1="65" x2="801.6" y2="131.5" stroke="#0000ff" stroke-width="3"/>
<polygon points="804.0,137.0 794.6,129.1 804.6,124.7" fill="#0000ff"/>
<line x1="804" y1="137" x2="865.9" y2="33.2" stroke="#0000ff" stroke-width="3"/>
<polygon points="869.0,28.0 868.1,40.3 858.6,34.6" fill="#0000ff"/>
<line x1="870.5" y1="24" x2="884.5" y2="58.0" stroke="#0000ff" stroke-width="3"/>
<polygon points="886.8,63.5 877.5,55.4 887.7,51.2" fill="#0000ff"/>
<line x1="887.5" y1="62" x2="917.1" y2="7.3" stroke="#0000ff" stroke-width="3"/>
<polygon points="920.0,2.0 919.6,14.3 909.9,9.1" fill="#0000ff"/>
<rect x="878" y="0" width="9" height="1" fill="#c0c0c0"/>
<rect x="879" y="1" width="7" height="1" fill="#c0c0c0"/>
<rect x="880" y="2" width="5" height="1" fill="#c0c0c0"/>
<rect x="881" y="3" width="3" height="1" fill="#c0c0c0"/>
<rect x="882" y="4" width="1" height="1" fill="#c0c0c0"/>
<rect x="1105" y="0" width="1" height="631" fill="#000"/>
<rect x="0" y="630" width="1106" height="1" fill="#000"/>
<rect x="1106" y="33" width="2" height="1" fill="#000"/>
<rect x="1106" y="66" width="2" height="1" fill="#000"/>
<rect x="1106" y="99" width="2" height="1" fill="#000"/>
<rect x="1106" y="132" width="2" height="1" fill="#000"/>
<rect x="1106" y="165" width="2" height="1" fill="#000"/>
<rect x="1106" y="198" width="2" height="1" fill="#000"/>
<rect x="1106" y="231" width="2" height="1" fill="#000"/>
<rect x="1106" y="264" width="2" height="1" fill="#000"/>
<rect x="1106" y="297" width="2" height="1" fill="#000"/>
<rect x="1106" y="330" width="2" height="1" fill="#000"/>
<rect x="1106" y="363" width="2" height="1" fill="#000"/>
<rect x="1106" y="396" width="2" height="1" fill="#000"/>
<rect x="1106" y="429" width="2" height="1" fill="#000"/>
<rect x="1106" y="462" width="2" height="1" fill="#000"/>
<rect x="1106" y="495" width="2" height="1" fill="#000"/>
<rect x="1106" y="528" width="2" height="1" fill="#000"/>
<rect x="1106" y="561" width="2" height="1" fill="#000"/>
<rect x="1106" y="594" width="2" height="1" fill="#000"/>
<rect x="1106" y="627" width="2" height="1" fill="#000"/>
<rect x="62" y="630" width="1" height="2" fill="#000"/>
<rect x="126" y="630" width="1" height="2" fill="#000"/>
<rect x="190" y="630" width="1" height="2" fill="#000"/>
<rect x="254" y="630" width="1" height="2" fill="#000"/>
<rect x="318" y="630" width="1" height="2" fill="#000"/>
<rect x="382" y="630" width="1" height="2" fill="#000"/>
<rect x="446" y="630" width="1" height="2" fill="#000"/>
<rect x="510" y="630" width="1" height="2" fill="#000"/>
<rect x="574" y="630" width="1" height="2" fill="#000"/>
<rect x="638" y="630" width="1" height="2" fill="#000"/>
<rect x="702" y="630" width="1" height="2" fill="#000"/>
<rect x="766" y="630" width="1" height="2" fill="#000"/>
<rect x="830" y="630" width="1" height="2" fill="#000"/>
<polygon points="1,6 8,6 4.5,10" fill="#000"/>
</svg>
<div id="hdr">XAUUSD_,H1&nbsp; 3126.85 3134.13 3126.17 3131.75</div>
<div class="pl" style="top:28px">3133.50</div>
<div class="pl" style="top:61px">3126.50</div>
<div class="pl" style="top:94px">3119.50</div>
<div class="pl" style="top:127px">3112.50</div>
<div class="pl" style="top:160px">3105.50</div>
<div class="pl" style="top:193px">3098.50</div>
<div class="pl" style="top:226px">3091.50</div>
<div class="pl" style="top:259px">3084.50</div>
<div class="pl" style="top:292px">3077.50</div>
<div class="pl" style="top:325px">3070.50</div>
<div class="pl" style="top:358px">3063.50</div>
<div class="pl" style="top:391px">3056.50</div>
<div class="pl" style="top:424px">3049.50</div>
<div class="pl" style="top:457px">3042.50</div>
<div class="pl" style="top:490px">3035.50</div>
<div class="pl" style="top:523px">3028.70</div>
<div class="pl" style="top:556px">3021.70</div>
<div class="pl" style="top:589px">3014.70</div>
<div class="pl" style="top:622px">3007.70</div>
<div id="cur"></div><div id="curt">3131.75</div>
</div></body></html>
